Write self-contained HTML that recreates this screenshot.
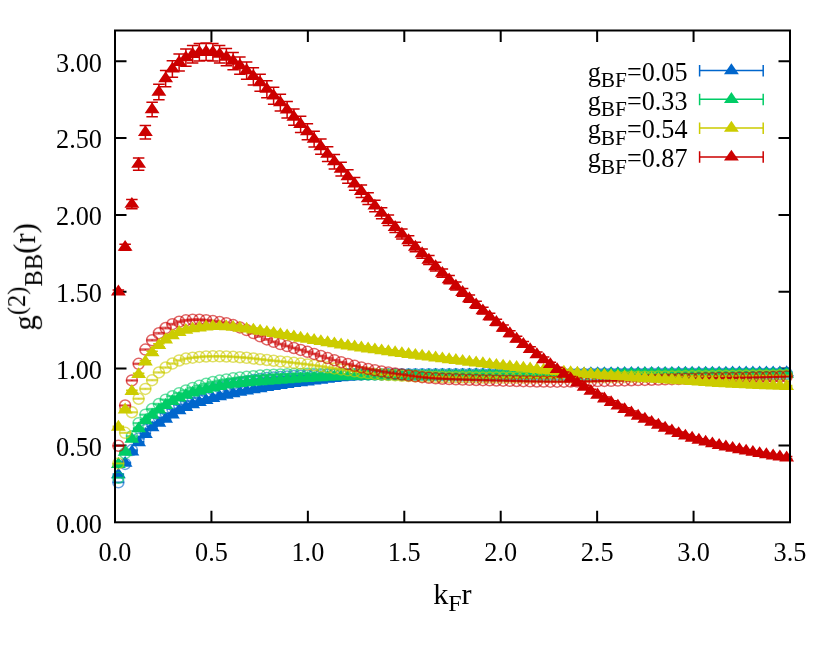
<!DOCTYPE html>
<html><head><meta charset="utf-8"><title>plot</title>
<style>
html,body{margin:0;padding:0;background:#fff;}
body{width:830px;height:645px;overflow:hidden;}
svg{display:block;}
text{font-family:"Liberation Serif",serif;font-size:26.67px;fill:#000;}
</style></head><body>
<svg width="830" height="645" viewBox="0 0 830 645">
<rect width="830" height="645" fill="#fff"/>
<g id="ticks"><path d="M211.43 522.3v-11.5M211.43 30.5v11.5M307.86 522.3v-11.5M307.86 30.5v11.5M404.29 522.3v-11.5M404.29 30.5v11.5M500.71 522.3v-11.5M500.71 30.5v11.5M597.14 522.3v-11.5M597.14 30.5v11.5M693.57 522.3v-11.5M693.57 30.5v11.5M115 445.46h11.5M790 445.46h-11.5M115 368.61h11.5M790 368.61h-11.5M115 291.77h11.5M790 291.77h-11.5M115 214.93h11.5M790 214.93h-11.5M115 138.08h11.5M790 138.08h-11.5M115 61.24h11.5M790 61.24h-11.5" stroke="#000" stroke-width="2" fill="none"/></g>
<g id="data">
<g stroke="#0066cc" stroke-opacity="0.6" stroke-width="1.5" fill="none"><path d="M118.38 482.02V482.66"/><path d="M112.62 482.02h11.5"/><path d="M112.62 482.66h11.5"/><circle cx="118.38" cy="482.34" r="5.5"/><path d="M125.12 463.55V464.25"/><path d="M119.38 463.55h11.5"/><path d="M119.38 464.25h11.5"/><circle cx="125.12" cy="463.9" r="5.5"/><path d="M131.88 449.69V450.44"/><path d="M126.12 449.69h11.5"/><path d="M126.12 450.44h11.5"/><circle cx="131.88" cy="450.07" r="5.5"/><path d="M138.62 438.14V438.94"/><path d="M132.88 438.14h11.5"/><path d="M132.88 438.94h11.5"/><circle cx="138.62" cy="438.54" r="5.5"/><path d="M145.38 429.67V430.5"/><path d="M139.62 429.67h11.5"/><path d="M139.62 430.5h11.5"/><circle cx="145.38" cy="430.09" r="5.5"/><path d="M152.12 422.74V423.61"/><path d="M146.38 422.74h11.5"/><path d="M146.38 423.61h11.5"/><circle cx="152.12" cy="423.17" r="5.5"/><path d="M158.88 417.34V418.24"/><path d="M153.12 417.34h11.5"/><path d="M153.12 418.24h11.5"/><circle cx="158.88" cy="417.79" r="5.5"/><path d="M165.62 412.72V413.64"/><path d="M159.88 412.72h11.5"/><path d="M159.88 413.64h11.5"/><circle cx="165.62" cy="413.18" r="5.5"/><path d="M172.38 408.31V409.24"/><path d="M166.62 408.31h11.5"/><path d="M166.62 409.24h11.5"/><circle cx="172.38" cy="408.78" r="5.5"/><path d="M179.12 404.27V405.19"/><path d="M173.38 404.27h11.5"/><path d="M173.38 405.19h11.5"/><circle cx="179.12" cy="404.73" r="5.5"/><path d="M185.88 400.68V401.6"/><path d="M180.12 400.68h11.5"/><path d="M180.12 401.6h11.5"/><circle cx="185.88" cy="401.14" r="5.5"/><path d="M192.62 397.38V398.3"/><path d="M186.88 397.38h11.5"/><path d="M186.88 398.3h11.5"/><circle cx="192.62" cy="397.84" r="5.5"/><path d="M199.38 394.47V395.39"/><path d="M193.62 394.47h11.5"/><path d="M193.62 395.39h11.5"/><circle cx="199.38" cy="394.93" r="5.5"/><path d="M206.12 391.87V392.79"/><path d="M200.38 391.87h11.5"/><path d="M200.38 392.79h11.5"/><circle cx="206.12" cy="392.33" r="5.5"/><path d="M212.88 389.42V390.35"/><path d="M207.12 389.42h11.5"/><path d="M207.12 390.35h11.5"/><circle cx="212.88" cy="389.89" r="5.5"/><path d="M219.62 387.18V388.11"/><path d="M213.88 387.18h11.5"/><path d="M213.88 388.11h11.5"/><circle cx="219.62" cy="387.65" r="5.5"/><path d="M226.38 385.2V386.12"/><path d="M220.62 385.2h11.5"/><path d="M220.62 386.12h11.5"/><circle cx="226.38" cy="385.66" r="5.5"/><path d="M233.12 383.52V384.44"/><path d="M227.38 383.52h11.5"/><path d="M227.38 384.44h11.5"/><circle cx="233.12" cy="383.98" r="5.5"/><path d="M239.88 382.05V382.97"/><path d="M234.12 382.05h11.5"/><path d="M234.12 382.97h11.5"/><circle cx="239.88" cy="382.51" r="5.5"/><path d="M246.63 380.68V381.61"/><path d="M240.88 380.68h11.5"/><path d="M240.88 381.61h11.5"/><circle cx="246.63" cy="381.14" r="5.5"/><path d="M253.38 379.46V380.38"/><path d="M247.62 379.46h11.5"/><path d="M247.62 380.38h11.5"/><circle cx="253.38" cy="379.92" r="5.5"/><path d="M260.12 378.42V379.34"/><path d="M254.38 378.42h11.5"/><path d="M254.38 379.34h11.5"/><circle cx="260.12" cy="378.88" r="5.5"/><path d="M266.88 377.6V378.53"/><path d="M261.12 377.6h11.5"/><path d="M261.12 378.53h11.5"/><circle cx="266.88" cy="378.07" r="5.5"/><path d="M273.62 377V377.92"/><path d="M267.88 377h11.5"/><path d="M267.88 377.92h11.5"/><circle cx="273.62" cy="377.46" r="5.5"/><path d="M280.38 376.48V377.4"/><path d="M274.62 376.48h11.5"/><path d="M274.62 377.4h11.5"/><circle cx="280.38" cy="376.94" r="5.5"/><path d="M287.12 376.02V376.94"/><path d="M281.38 376.02h11.5"/><path d="M281.38 376.94h11.5"/><circle cx="287.12" cy="376.48" r="5.5"/><path d="M293.88 375.64V376.56"/><path d="M288.12 375.64h11.5"/><path d="M288.12 376.56h11.5"/><circle cx="293.88" cy="376.1" r="5.5"/><path d="M300.62 375.32V376.24"/><path d="M294.88 375.32h11.5"/><path d="M294.88 376.24h11.5"/><circle cx="300.62" cy="375.78" r="5.5"/><path d="M307.38 375.08V376"/><path d="M301.62 375.08h11.5"/><path d="M301.62 376h11.5"/><circle cx="307.38" cy="375.54" r="5.5"/><path d="M314.12 374.89V375.81"/><path d="M308.38 374.89h11.5"/><path d="M308.38 375.81h11.5"/><circle cx="314.12" cy="375.35" r="5.5"/><path d="M320.88 374.71V375.63"/><path d="M315.12 374.71h11.5"/><path d="M315.12 375.63h11.5"/><circle cx="320.88" cy="375.17" r="5.5"/><path d="M327.62 374.55V375.47"/><path d="M321.88 374.55h11.5"/><path d="M321.88 375.47h11.5"/><circle cx="327.62" cy="375.01" r="5.5"/><path d="M334.38 374.4V375.32"/><path d="M328.62 374.4h11.5"/><path d="M328.62 375.32h11.5"/><circle cx="334.38" cy="374.86" r="5.5"/><path d="M341.12 374.27V375.19"/><path d="M335.38 374.27h11.5"/><path d="M335.38 375.19h11.5"/><circle cx="341.12" cy="374.73" r="5.5"/><path d="M347.88 374.16V375.09"/><path d="M342.12 374.16h11.5"/><path d="M342.12 375.09h11.5"/><circle cx="347.88" cy="374.62" r="5.5"/><path d="M354.62 374.08V375"/><path d="M348.88 374.08h11.5"/><path d="M348.88 375h11.5"/><circle cx="354.62" cy="374.54" r="5.5"/><path d="M361.38 374.02V374.94"/><path d="M355.62 374.02h11.5"/><path d="M355.62 374.94h11.5"/><circle cx="361.38" cy="374.48" r="5.5"/><path d="M368.13 373.98V374.9"/><path d="M362.38 373.98h11.5"/><path d="M362.38 374.9h11.5"/><circle cx="368.13" cy="374.44" r="5.5"/><path d="M374.88 373.95V374.87"/><path d="M369.13 373.95h11.5"/><path d="M369.13 374.87h11.5"/><circle cx="374.88" cy="374.41" r="5.5"/><path d="M381.62 373.92V374.85"/><path d="M375.88 373.92h11.5"/><path d="M375.88 374.85h11.5"/><circle cx="381.62" cy="374.39" r="5.5"/><path d="M388.38 373.9V374.82"/><path d="M382.63 373.9h11.5"/><path d="M382.63 374.82h11.5"/><circle cx="388.38" cy="374.36" r="5.5"/><path d="M395.13 373.88V374.8"/><path d="M389.38 373.88h11.5"/><path d="M389.38 374.8h11.5"/><circle cx="395.13" cy="374.34" r="5.5"/><path d="M401.88 373.86V374.78"/><path d="M396.12 373.86h11.5"/><path d="M396.12 374.78h11.5"/><circle cx="401.88" cy="374.32" r="5.5"/><path d="M408.63 373.85V374.77"/><path d="M402.88 373.85h11.5"/><path d="M402.88 374.77h11.5"/><circle cx="408.63" cy="374.31" r="5.5"/><path d="M415.38 373.84V374.76"/><path d="M409.62 373.84h11.5"/><path d="M409.62 374.76h11.5"/><circle cx="415.38" cy="374.3" r="5.5"/><path d="M422.13 373.84V374.76"/><path d="M416.38 373.84h11.5"/><path d="M416.38 374.76h11.5"/><circle cx="422.13" cy="374.3" r="5.5"/><path d="M428.88 373.84V374.76"/><path d="M423.13 373.84h11.5"/><path d="M423.13 374.76h11.5"/><circle cx="428.88" cy="374.3" r="5.5"/><path d="M435.62 373.84V374.76"/><path d="M429.88 373.84h11.5"/><path d="M429.88 374.76h11.5"/><circle cx="435.62" cy="374.3" r="5.5"/><path d="M442.38 373.84V374.76"/><path d="M436.63 373.84h11.5"/><path d="M436.63 374.76h11.5"/><circle cx="442.38" cy="374.3" r="5.5"/><path d="M449.13 373.84V374.76"/><path d="M443.38 373.84h11.5"/><path d="M443.38 374.76h11.5"/><circle cx="449.13" cy="374.3" r="5.5"/><path d="M455.88 373.84V374.76"/><path d="M450.12 373.84h11.5"/><path d="M450.12 374.76h11.5"/><circle cx="455.88" cy="374.3" r="5.5"/><path d="M462.63 373.84V374.76"/><path d="M456.88 373.84h11.5"/><path d="M456.88 374.76h11.5"/><circle cx="462.63" cy="374.3" r="5.5"/><path d="M469.38 373.84V374.75"/><path d="M463.63 373.84h11.5"/><path d="M463.63 374.75h11.5"/><circle cx="469.38" cy="374.3" r="5.5"/><path d="M476.13 373.84V374.75"/><path d="M470.38 373.84h11.5"/><path d="M470.38 374.75h11.5"/><circle cx="476.13" cy="374.3" r="5.5"/><path d="M482.88 373.85V374.75"/><path d="M477.13 373.85h11.5"/><path d="M477.13 374.75h11.5"/><circle cx="482.88" cy="374.3" r="5.5"/><path d="M489.63 373.85V374.75"/><path d="M483.88 373.85h11.5"/><path d="M483.88 374.75h11.5"/><circle cx="489.63" cy="374.3" r="5.5"/><path d="M496.38 373.85V374.75"/><path d="M490.63 373.85h11.5"/><path d="M490.63 374.75h11.5"/><circle cx="496.38" cy="374.3" r="5.5"/><path d="M503.13 373.85V374.75"/><path d="M497.38 373.85h11.5"/><path d="M497.38 374.75h11.5"/><circle cx="503.13" cy="374.3" r="5.5"/><path d="M509.88 373.84V374.74"/><path d="M504.13 373.84h11.5"/><path d="M504.13 374.74h11.5"/><circle cx="509.88" cy="374.29" r="5.5"/><path d="M516.62 373.83V374.72"/><path d="M510.88 373.83h11.5"/><path d="M510.88 374.72h11.5"/><circle cx="516.62" cy="374.27" r="5.5"/><path d="M523.38 373.81V374.69"/><path d="M517.62 373.81h11.5"/><path d="M517.62 374.69h11.5"/><circle cx="523.38" cy="374.25" r="5.5"/><path d="M530.12 373.78V374.66"/><path d="M524.38 373.78h11.5"/><path d="M524.38 374.66h11.5"/><circle cx="530.12" cy="374.22" r="5.5"/><path d="M536.88 373.75V374.62"/><path d="M531.12 373.75h11.5"/><path d="M531.12 374.62h11.5"/><circle cx="536.88" cy="374.19" r="5.5"/><path d="M543.62 373.71V374.58"/><path d="M537.88 373.71h11.5"/><path d="M537.88 374.58h11.5"/><circle cx="543.62" cy="374.15" r="5.5"/><path d="M550.38 373.67V374.54"/><path d="M544.62 373.67h11.5"/><path d="M544.62 374.54h11.5"/><circle cx="550.38" cy="374.11" r="5.5"/><path d="M557.13 373.63V374.49"/><path d="M551.38 373.63h11.5"/><path d="M551.38 374.49h11.5"/><circle cx="557.13" cy="374.06" r="5.5"/><path d="M563.88 373.59V374.45"/><path d="M558.12 373.59h11.5"/><path d="M558.12 374.45h11.5"/><circle cx="563.88" cy="374.02" r="5.5"/><path d="M570.62 373.55V374.4"/><path d="M564.88 373.55h11.5"/><path d="M564.88 374.4h11.5"/><circle cx="570.62" cy="373.98" r="5.5"/><path d="M577.38 373.51V374.36"/><path d="M571.63 373.51h11.5"/><path d="M571.63 374.36h11.5"/><circle cx="577.38" cy="373.94" r="5.5"/><path d="M584.12 373.48V374.32"/><path d="M578.38 373.48h11.5"/><path d="M578.38 374.32h11.5"/><circle cx="584.12" cy="373.9" r="5.5"/><path d="M590.88 373.45V374.28"/><path d="M585.12 373.45h11.5"/><path d="M585.12 374.28h11.5"/><circle cx="590.88" cy="373.86" r="5.5"/><path d="M597.63 373.42V374.25"/><path d="M591.88 373.42h11.5"/><path d="M591.88 374.25h11.5"/><circle cx="597.63" cy="373.84" r="5.5"/><path d="M604.38 373.4V374.22"/><path d="M598.62 373.4h11.5"/><path d="M598.62 374.22h11.5"/><circle cx="604.38" cy="373.81" r="5.5"/><path d="M611.12 373.37V374.19"/><path d="M605.38 373.37h11.5"/><path d="M605.38 374.19h11.5"/><circle cx="611.12" cy="373.78" r="5.5"/><path d="M617.88 373.35V374.16"/><path d="M612.12 373.35h11.5"/><path d="M612.12 374.16h11.5"/><circle cx="617.88" cy="373.75" r="5.5"/><path d="M624.62 373.32V374.13"/><path d="M618.88 373.32h11.5"/><path d="M618.88 374.13h11.5"/><circle cx="624.62" cy="373.72" r="5.5"/><path d="M631.38 373.29V374.1"/><path d="M625.62 373.29h11.5"/><path d="M625.62 374.1h11.5"/><circle cx="631.38" cy="373.69" r="5.5"/><path d="M638.13 373.27V374.06"/><path d="M632.38 373.27h11.5"/><path d="M632.38 374.06h11.5"/><circle cx="638.13" cy="373.67" r="5.5"/><path d="M644.88 373.25V374.03"/><path d="M639.12 373.25h11.5"/><path d="M639.12 374.03h11.5"/><circle cx="644.88" cy="373.64" r="5.5"/><path d="M651.62 373.22V374.01"/><path d="M645.88 373.22h11.5"/><path d="M645.88 374.01h11.5"/><circle cx="651.62" cy="373.61" r="5.5"/><path d="M658.38 373.2V373.98"/><path d="M652.63 373.2h11.5"/><path d="M652.63 373.98h11.5"/><circle cx="658.38" cy="373.59" r="5.5"/><path d="M665.13 373.19V373.96"/><path d="M659.38 373.19h11.5"/><path d="M659.38 373.96h11.5"/><circle cx="665.13" cy="373.57" r="5.5"/><path d="M671.88 373.18V373.94"/><path d="M666.12 373.18h11.5"/><path d="M666.12 373.94h11.5"/><circle cx="671.88" cy="373.56" r="5.5"/><path d="M678.63 373.17V373.92"/><path d="M672.88 373.17h11.5"/><path d="M672.88 373.92h11.5"/><circle cx="678.63" cy="373.54" r="5.5"/><path d="M685.38 373.16V373.91"/><path d="M679.63 373.16h11.5"/><path d="M679.63 373.91h11.5"/><circle cx="685.38" cy="373.53" r="5.5"/><path d="M692.12 373.16V373.9"/><path d="M686.38 373.16h11.5"/><path d="M686.38 373.9h11.5"/><circle cx="692.12" cy="373.53" r="5.5"/><path d="M698.88 373.17V373.9"/><path d="M693.13 373.17h11.5"/><path d="M693.13 373.9h11.5"/><circle cx="698.88" cy="373.53" r="5.5"/><path d="M705.63 373.17V373.89"/><path d="M699.88 373.17h11.5"/><path d="M699.88 373.89h11.5"/><circle cx="705.63" cy="373.53" r="5.5"/><path d="M712.38 373.17V373.89"/><path d="M706.62 373.17h11.5"/><path d="M706.62 373.89h11.5"/><circle cx="712.38" cy="373.53" r="5.5"/><path d="M719.13 373.18V373.88"/><path d="M713.38 373.18h11.5"/><path d="M713.38 373.88h11.5"/><circle cx="719.13" cy="373.53" r="5.5"/><path d="M725.88 373.18V373.88"/><path d="M720.13 373.18h11.5"/><path d="M720.13 373.88h11.5"/><circle cx="725.88" cy="373.53" r="5.5"/><path d="M732.62 373.19V373.88"/><path d="M726.88 373.19h11.5"/><path d="M726.88 373.88h11.5"/><circle cx="732.62" cy="373.53" r="5.5"/><path d="M739.38 373.19V373.87"/><path d="M733.63 373.19h11.5"/><path d="M733.63 373.87h11.5"/><circle cx="739.38" cy="373.53" r="5.5"/><path d="M746.13 373.19V373.87"/><path d="M740.38 373.19h11.5"/><path d="M740.38 373.87h11.5"/><circle cx="746.13" cy="373.53" r="5.5"/><path d="M752.88 373.2V373.86"/><path d="M747.12 373.2h11.5"/><path d="M747.12 373.86h11.5"/><circle cx="752.88" cy="373.53" r="5.5"/><path d="M759.63 373.2V373.86"/><path d="M753.88 373.2h11.5"/><path d="M753.88 373.86h11.5"/><circle cx="759.63" cy="373.53" r="5.5"/><path d="M766.38 373.21V373.85"/><path d="M760.63 373.21h11.5"/><path d="M760.63 373.85h11.5"/><circle cx="766.38" cy="373.53" r="5.5"/><path d="M773.13 373.21V373.85"/><path d="M767.38 373.21h11.5"/><path d="M767.38 373.85h11.5"/><circle cx="773.13" cy="373.53" r="5.5"/><path d="M779.88 373.22V373.84"/><path d="M774.13 373.22h11.5"/><path d="M774.13 373.84h11.5"/><circle cx="779.88" cy="373.53" r="5.5"/><path d="M786.63 373.22V373.84"/><path d="M780.88 373.22h11.5"/><path d="M780.88 373.84h11.5"/><circle cx="786.63" cy="373.53" r="5.5"/></g>
<g stroke="#0066cc" stroke-width="1.5" fill="none"><path d="M118.38 474.02V475.3M112.62 474.02h11.5M112.62 475.3h11.5M125.12 462.44V463.82M119.38 462.44h11.5M119.38 463.82h11.5M131.88 451.01V452.51M126.12 451.01h11.5M126.12 452.51h11.5M138.62 441.73V443.34M132.88 441.73h11.5M132.88 443.34h11.5M145.38 433.37V435.1M139.62 433.37h11.5M139.62 435.1h11.5M152.12 426.71V428.55M146.38 426.71h11.5M146.38 428.55h11.5M158.88 422.19V424.15M153.12 422.19h11.5M153.12 424.15h11.5M165.62 417.99V420.05M159.88 417.99h11.5M159.88 420.05h11.5M172.38 413.79V415.95M166.62 413.79h11.5M166.62 415.95h11.5M179.12 409.45V411.69M173.38 409.45h11.5M173.38 411.69h11.5M185.88 406.18V408.5M180.12 406.18h11.5M180.12 408.5h11.5M192.62 403.38V405.77M186.88 403.38h11.5M186.88 405.77h11.5M199.38 401.05V403.48M193.62 401.05h11.5M193.62 403.48h11.5M206.12 399.04V401.49M200.38 399.04h11.5M200.38 401.49h11.5M212.88 397.15V399.61M207.12 397.15h11.5M207.12 399.61h11.5M219.62 395.39V397.85M213.88 395.39h11.5M213.88 397.85h11.5M226.38 393.77V396.23M220.62 393.77h11.5M220.62 396.23h11.5M233.12 392.28V394.74M227.38 392.28h11.5M227.38 394.74h11.5M239.88 390.92V393.37M234.12 390.92h11.5M234.12 393.37h11.5M246.63 389.64V392.1M240.88 389.64h11.5M240.88 392.1h11.5M253.38 388.44V390.9M247.62 388.44h11.5M247.62 390.9h11.5M260.12 387.3V389.76M254.38 387.3h11.5M254.38 389.76h11.5M266.88 386.21V388.67M261.12 386.21h11.5M261.12 388.67h11.5M273.62 385.17V387.62M267.88 385.17h11.5M267.88 387.62h11.5M280.38 384.15V386.6M274.62 384.15h11.5M274.62 386.6h11.5M287.12 383.16V385.62M281.38 383.16h11.5M281.38 385.62h11.5M293.88 382.22V384.68M288.12 382.22h11.5M288.12 384.68h11.5M300.62 381.34V383.79M294.88 381.34h11.5M294.88 383.79h11.5M307.38 380.51V382.96M301.62 380.51h11.5M301.62 382.96h11.5M314.12 379.68V382.13M308.38 379.68h11.5M308.38 382.13h11.5M320.88 378.81V381.26M315.12 378.81h11.5M315.12 381.26h11.5M327.62 377.95V380.4M321.88 377.95h11.5M321.88 380.4h11.5M334.38 377.13V379.58M328.62 377.13h11.5M328.62 379.58h11.5M341.12 376.39V378.83M335.38 376.39h11.5M335.38 378.83h11.5M347.88 375.76V378.21M342.12 375.76h11.5M342.12 378.21h11.5M354.62 375.3V377.74M348.88 375.3h11.5M348.88 377.74h11.5M361.38 375.04V377.47M355.62 375.04h11.5M355.62 377.47h11.5M368.13 374.86V377.29M362.38 374.86h11.5M362.38 377.29h11.5M374.88 374.7V377.13M369.13 374.7h11.5M369.13 377.13h11.5M381.62 374.57V376.99M375.88 374.57h11.5M375.88 376.99h11.5M388.38 374.45V376.87M382.63 374.45h11.5M382.63 376.87h11.5M395.13 374.35V376.77M389.38 374.35h11.5M389.38 376.77h11.5M401.88 374.26V376.67M396.12 374.26h11.5M396.12 376.67h11.5M408.63 374.18V376.59M402.88 374.18h11.5M402.88 376.59h11.5M415.38 374.11V376.51M409.62 374.11h11.5M409.62 376.51h11.5M422.13 374.04V376.44M416.38 374.04h11.5M416.38 376.44h11.5M428.88 373.97V376.36M423.13 373.97h11.5M423.13 376.36h11.5M435.62 373.91V376.3M429.88 373.91h11.5M429.88 376.3h11.5M442.38 373.86V376.24M436.63 373.86h11.5M436.63 376.24h11.5M449.13 373.81V376.19M443.38 373.81h11.5M443.38 376.19h11.5M455.88 373.77V376.14M450.12 373.77h11.5M450.12 376.14h11.5M462.63 373.73V376.09M456.88 373.73h11.5M456.88 376.09h11.5M469.38 373.68V376.03M463.63 373.68h11.5M463.63 376.03h11.5M476.13 373.63V375.98M470.38 373.63h11.5M470.38 375.98h11.5M482.88 373.58V375.91M477.13 373.58h11.5M477.13 375.91h11.5M489.63 373.52V375.84M483.88 373.52h11.5M483.88 375.84h11.5M496.38 373.46V375.77M490.63 373.46h11.5M490.63 375.77h11.5M503.13 373.39V375.69M497.38 373.39h11.5M497.38 375.69h11.5M509.88 373.32V375.61M504.13 373.32h11.5M504.13 375.61h11.5M516.62 373.25V375.53M510.88 373.25h11.5M510.88 375.53h11.5M523.38 373.17V375.44M517.62 373.17h11.5M517.62 375.44h11.5M530.12 373.1V375.35M524.38 373.1h11.5M524.38 375.35h11.5M536.88 373.02V375.26M531.12 373.02h11.5M531.12 375.26h11.5M543.62 372.95V375.18M537.88 372.95h11.5M537.88 375.18h11.5M550.38 372.88V375.09M544.62 372.88h11.5M544.62 375.09h11.5M557.13 372.81V375M551.38 372.81h11.5M551.38 375h11.5M563.88 372.74V374.92M558.12 372.74h11.5M558.12 374.92h11.5M570.62 372.68V374.84M564.88 372.68h11.5M564.88 374.84h11.5M577.38 372.62V374.77M571.63 372.62h11.5M571.63 374.77h11.5M584.12 372.57V374.7M578.38 372.57h11.5M578.38 374.7h11.5M590.88 372.52V374.63M585.12 372.52h11.5M585.12 374.63h11.5M597.63 372.48V374.57M591.88 372.48h11.5M591.88 374.57h11.5M604.38 372.45V374.52M598.62 372.45h11.5M598.62 374.52h11.5M611.12 372.42V374.47M605.38 372.42h11.5M605.38 374.47h11.5M617.88 372.39V374.42M612.12 372.39h11.5M612.12 374.42h11.5M624.62 372.37V374.38M618.88 372.37h11.5M618.88 374.38h11.5M631.38 372.34V374.33M625.62 372.34h11.5M625.62 374.33h11.5M638.13 372.32V374.29M632.38 372.32h11.5M632.38 374.29h11.5M644.88 372.3V374.24M639.12 372.3h11.5M639.12 374.24h11.5M651.62 372.28V374.2M645.88 372.28h11.5M645.88 374.2h11.5M658.38 372.26V374.15M652.63 372.26h11.5M652.63 374.15h11.5M665.13 372.24V374.11M659.38 372.24h11.5M659.38 374.11h11.5M671.88 372.22V374.06M666.12 372.22h11.5M666.12 374.06h11.5M678.63 372.2V374.01M672.88 372.2h11.5M672.88 374.01h11.5M685.38 372.18V373.96M679.63 372.18h11.5M679.63 373.96h11.5M692.12 372.16V373.92M686.38 372.16h11.5M686.38 373.92h11.5M698.88 372.15V373.87M693.13 372.15h11.5M693.13 373.87h11.5M705.63 372.13V373.82M699.88 372.13h11.5M699.88 373.82h11.5M712.38 372.11V373.77M706.62 372.11h11.5M706.62 373.77h11.5M719.13 372.1V373.72M713.38 372.1h11.5M713.38 373.72h11.5M725.88 372.08V373.68M720.13 372.08h11.5M720.13 373.68h11.5M732.62 372.07V373.63M726.88 372.07h11.5M726.88 373.63h11.5M739.38 372.05V373.58M733.63 372.05h11.5M733.63 373.58h11.5M746.13 372.04V373.53M740.38 372.04h11.5M740.38 373.53h11.5M752.88 372.03V373.48M747.12 372.03h11.5M747.12 373.48h11.5M759.63 372.02V373.43M753.88 372.02h11.5M753.88 373.43h11.5M766.38 372.01V373.38M760.63 372.01h11.5M760.63 373.38h11.5M773.13 372V373.33M767.38 372h11.5M767.38 373.33h11.5M779.88 371.99V373.28M774.13 371.99h11.5M774.13 373.28h11.5M786.63 371.98V373.23M780.88 371.98h11.5M780.88 373.23h11.5"/><path fill="#0066cc" stroke="none" d="M118.38 467.41l-7.45 10.9h14.9zM125.12 455.88l-7.45 10.9h14.9zM131.88 444.51l-7.45 10.9h14.9zM138.62 435.29l-7.45 10.9h14.9zM145.38 426.99l-7.45 10.9h14.9zM152.12 420.38l-7.45 10.9h14.9zM158.88 415.92l-7.45 10.9h14.9zM165.62 411.77l-7.45 10.9h14.9zM172.38 407.62l-7.45 10.9h14.9zM179.12 403.32l-7.45 10.9h14.9zM185.88 400.09l-7.45 10.9h14.9zM192.62 397.33l-7.45 10.9h14.9zM199.38 395.01l-7.45 10.9h14.9zM206.12 393.02l-7.45 10.9h14.9zM212.88 391.13l-7.45 10.9h14.9zM219.62 389.37l-7.45 10.9h14.9zM226.38 387.75l-7.45 10.9h14.9zM233.12 386.26l-7.45 10.9h14.9zM239.88 384.89l-7.45 10.9h14.9zM246.63 383.62l-7.45 10.9h14.9zM253.38 382.42l-7.45 10.9h14.9zM260.12 381.28l-7.45 10.9h14.9zM266.88 380.19l-7.45 10.9h14.9zM273.62 379.14l-7.45 10.9h14.9zM280.38 378.12l-7.45 10.9h14.9zM287.12 377.14l-7.45 10.9h14.9zM293.88 376.2l-7.45 10.9h14.9zM300.62 375.32l-7.45 10.9h14.9zM307.38 374.48l-7.45 10.9h14.9zM314.12 373.66l-7.45 10.9h14.9zM320.88 372.79l-7.45 10.9h14.9zM327.62 371.93l-7.45 10.9h14.9zM334.38 371.1l-7.45 10.9h14.9zM341.12 370.36l-7.45 10.9h14.9zM347.88 369.74l-7.45 10.9h14.9zM354.62 369.27l-7.45 10.9h14.9zM361.38 369l-7.45 10.9h14.9zM368.13 368.82l-7.45 10.9h14.9zM374.88 368.67l-7.45 10.9h14.9zM381.62 368.53l-7.45 10.9h14.9zM388.38 368.41l-7.45 10.9h14.9zM395.13 368.31l-7.45 10.9h14.9zM401.88 368.22l-7.45 10.9h14.9zM408.63 368.14l-7.45 10.9h14.9zM415.38 368.06l-7.45 10.9h14.9zM422.13 367.99l-7.45 10.9h14.9zM428.88 367.92l-7.45 10.9h14.9zM435.62 367.86l-7.45 10.9h14.9zM442.38 367.8l-7.45 10.9h14.9zM449.13 367.75l-7.45 10.9h14.9zM455.88 367.7l-7.45 10.9h14.9zM462.63 367.66l-7.45 10.9h14.9zM469.38 367.61l-7.45 10.9h14.9zM476.13 367.56l-7.45 10.9h14.9zM482.88 367.5l-7.45 10.9h14.9zM489.63 367.43l-7.45 10.9h14.9zM496.38 367.36l-7.45 10.9h14.9zM503.13 367.29l-7.45 10.9h14.9zM509.88 367.21l-7.45 10.9h14.9zM516.62 367.14l-7.45 10.9h14.9zM523.38 367.06l-7.45 10.9h14.9zM530.12 366.97l-7.45 10.9h14.9zM536.88 366.89l-7.45 10.9h14.9zM543.62 366.81l-7.45 10.9h14.9zM550.38 366.73l-7.45 10.9h14.9zM557.13 366.66l-7.45 10.9h14.9zM563.88 366.58l-7.45 10.9h14.9zM570.62 366.51l-7.45 10.9h14.9zM577.38 366.44l-7.45 10.9h14.9zM584.12 366.38l-7.45 10.9h14.9zM590.88 366.33l-7.45 10.9h14.9zM597.63 366.28l-7.45 10.9h14.9zM604.38 366.23l-7.45 10.9h14.9zM611.12 366.19l-7.45 10.9h14.9zM617.88 366.16l-7.45 10.9h14.9zM624.62 366.12l-7.45 10.9h14.9zM631.38 366.09l-7.45 10.9h14.9zM638.13 366.05l-7.45 10.9h14.9zM644.88 366.02l-7.45 10.9h14.9zM651.62 365.99l-7.45 10.9h14.9zM658.38 365.96l-7.45 10.9h14.9zM665.13 365.92l-7.45 10.9h14.9zM671.88 365.89l-7.45 10.9h14.9zM678.63 365.86l-7.45 10.9h14.9zM685.38 365.82l-7.45 10.9h14.9zM692.12 365.79l-7.45 10.9h14.9zM698.88 365.76l-7.45 10.9h14.9zM705.63 365.72l-7.45 10.9h14.9zM712.38 365.69l-7.45 10.9h14.9zM719.13 365.66l-7.45 10.9h14.9zM725.88 365.63l-7.45 10.9h14.9zM732.62 365.6l-7.45 10.9h14.9zM739.38 365.57l-7.45 10.9h14.9zM746.13 365.54l-7.45 10.9h14.9zM752.88 365.51l-7.45 10.9h14.9zM759.63 365.48l-7.45 10.9h14.9zM766.38 365.45l-7.45 10.9h14.9zM773.13 365.42l-7.45 10.9h14.9zM779.88 365.39l-7.45 10.9h14.9zM786.63 365.36l-7.45 10.9h14.9z"/></g>
<g stroke="#00cc66" stroke-opacity="0.6" stroke-width="1.5" fill="none"><path d="M118.38 477.41V478.05"/><path d="M112.62 477.41h11.5"/><path d="M112.62 478.05h11.5"/><circle cx="118.38" cy="477.73" r="5.5"/><path d="M125.12 452.79V453.49"/><path d="M119.38 452.79h11.5"/><path d="M119.38 453.49h11.5"/><circle cx="125.12" cy="453.14" r="5.5"/><path d="M131.88 435.86V436.61"/><path d="M126.12 435.86h11.5"/><path d="M126.12 436.61h11.5"/><circle cx="131.88" cy="436.23" r="5.5"/><path d="M138.62 422.78V423.57"/><path d="M132.88 422.78h11.5"/><path d="M132.88 423.57h11.5"/><circle cx="138.62" cy="423.17" r="5.5"/><path d="M145.38 414.3V415.14"/><path d="M139.62 414.3h11.5"/><path d="M139.62 415.14h11.5"/><circle cx="145.38" cy="414.72" r="5.5"/><path d="M152.12 408.6V409.47"/><path d="M146.38 408.6h11.5"/><path d="M146.38 409.47h11.5"/><circle cx="152.12" cy="409.03" r="5.5"/><path d="M158.88 403.51V404.41"/><path d="M153.12 403.51h11.5"/><path d="M153.12 404.41h11.5"/><circle cx="158.88" cy="403.96" r="5.5"/><path d="M165.62 399.2V400.11"/><path d="M159.88 399.2h11.5"/><path d="M159.88 400.11h11.5"/><circle cx="165.62" cy="399.66" r="5.5"/><path d="M172.38 395.82V396.74"/><path d="M166.62 395.82h11.5"/><path d="M166.62 396.74h11.5"/><circle cx="172.38" cy="396.28" r="5.5"/><path d="M179.12 392.74V393.66"/><path d="M173.38 392.74h11.5"/><path d="M173.38 393.66h11.5"/><circle cx="179.12" cy="393.2" r="5.5"/><path d="M185.88 389.99V390.91"/><path d="M180.12 389.99h11.5"/><path d="M180.12 390.91h11.5"/><circle cx="185.88" cy="390.45" r="5.5"/><path d="M192.62 387.44V388.36"/><path d="M186.88 387.44h11.5"/><path d="M186.88 388.36h11.5"/><circle cx="192.62" cy="387.9" r="5.5"/><path d="M199.38 385.2V386.12"/><path d="M193.62 385.2h11.5"/><path d="M193.62 386.12h11.5"/><circle cx="199.38" cy="385.66" r="5.5"/><path d="M206.12 383.27V384.2"/><path d="M200.38 383.27h11.5"/><path d="M200.38 384.2h11.5"/><circle cx="206.12" cy="383.74" r="5.5"/><path d="M212.88 381.57V382.49"/><path d="M207.12 381.57h11.5"/><path d="M207.12 382.49h11.5"/><circle cx="212.88" cy="382.03" r="5.5"/><path d="M219.62 380.14V381.06"/><path d="M213.88 380.14h11.5"/><path d="M213.88 381.06h11.5"/><circle cx="219.62" cy="380.6" r="5.5"/><path d="M226.38 378.94V379.86"/><path d="M220.62 378.94h11.5"/><path d="M220.62 379.86h11.5"/><circle cx="226.38" cy="379.4" r="5.5"/><path d="M233.12 377.9V378.82"/><path d="M227.38 377.9h11.5"/><path d="M227.38 378.82h11.5"/><circle cx="233.12" cy="378.36" r="5.5"/><path d="M239.88 377.07V377.99"/><path d="M234.12 377.07h11.5"/><path d="M234.12 377.99h11.5"/><circle cx="239.88" cy="377.53" r="5.5"/><path d="M246.63 376.36V377.29"/><path d="M240.88 376.36h11.5"/><path d="M240.88 377.29h11.5"/><circle cx="246.63" cy="376.83" r="5.5"/><path d="M253.38 375.71V376.63"/><path d="M247.62 375.71h11.5"/><path d="M247.62 376.63h11.5"/><circle cx="253.38" cy="376.17" r="5.5"/><path d="M260.12 375.12V376.05"/><path d="M254.38 375.12h11.5"/><path d="M254.38 376.05h11.5"/><circle cx="260.12" cy="375.59" r="5.5"/><path d="M266.88 374.63V375.55"/><path d="M261.12 374.63h11.5"/><path d="M261.12 375.55h11.5"/><circle cx="266.88" cy="375.09" r="5.5"/><path d="M273.62 374.23V375.15"/><path d="M267.88 374.23h11.5"/><path d="M267.88 375.15h11.5"/><circle cx="273.62" cy="374.69" r="5.5"/><path d="M280.38 373.96V374.88"/><path d="M274.62 373.96h11.5"/><path d="M274.62 374.88h11.5"/><circle cx="280.38" cy="374.42" r="5.5"/><path d="M287.12 373.75V374.67"/><path d="M281.38 373.75h11.5"/><path d="M281.38 374.67h11.5"/><circle cx="287.12" cy="374.21" r="5.5"/><path d="M293.88 373.56V374.48"/><path d="M288.12 373.56h11.5"/><path d="M288.12 374.48h11.5"/><circle cx="293.88" cy="374.02" r="5.5"/><path d="M300.62 373.43V374.35"/><path d="M294.88 373.43h11.5"/><path d="M294.88 374.35h11.5"/><circle cx="300.62" cy="373.89" r="5.5"/><path d="M307.38 373.38V374.3"/><path d="M301.62 373.38h11.5"/><path d="M301.62 374.3h11.5"/><circle cx="307.38" cy="373.84" r="5.5"/><path d="M314.12 373.39V374.31"/><path d="M308.38 373.39h11.5"/><path d="M308.38 374.31h11.5"/><circle cx="314.12" cy="373.85" r="5.5"/><path d="M320.88 373.43V374.35"/><path d="M315.12 373.43h11.5"/><path d="M315.12 374.35h11.5"/><circle cx="320.88" cy="373.89" r="5.5"/><path d="M327.62 373.49V374.41"/><path d="M321.88 373.49h11.5"/><path d="M321.88 374.41h11.5"/><circle cx="327.62" cy="373.95" r="5.5"/><path d="M334.38 373.57V374.49"/><path d="M328.62 373.57h11.5"/><path d="M328.62 374.49h11.5"/><circle cx="334.38" cy="374.03" r="5.5"/><path d="M341.12 373.66V374.58"/><path d="M335.38 373.66h11.5"/><path d="M335.38 374.58h11.5"/><circle cx="341.12" cy="374.12" r="5.5"/><path d="M347.88 373.75V374.67"/><path d="M342.12 373.75h11.5"/><path d="M342.12 374.67h11.5"/><circle cx="347.88" cy="374.21" r="5.5"/><path d="M354.62 373.85V374.77"/><path d="M348.88 373.85h11.5"/><path d="M348.88 374.77h11.5"/><circle cx="354.62" cy="374.31" r="5.5"/><path d="M361.38 373.94V374.86"/><path d="M355.62 373.94h11.5"/><path d="M355.62 374.86h11.5"/><circle cx="361.38" cy="374.4" r="5.5"/><path d="M368.13 374.02V374.94"/><path d="M362.38 374.02h11.5"/><path d="M362.38 374.94h11.5"/><circle cx="368.13" cy="374.48" r="5.5"/><path d="M374.88 374.11V375.03"/><path d="M369.13 374.11h11.5"/><path d="M369.13 375.03h11.5"/><circle cx="374.88" cy="374.57" r="5.5"/><path d="M381.62 374.21V375.13"/><path d="M375.88 374.21h11.5"/><path d="M375.88 375.13h11.5"/><circle cx="381.62" cy="374.67" r="5.5"/><path d="M388.38 374.32V375.24"/><path d="M382.63 374.32h11.5"/><path d="M382.63 375.24h11.5"/><circle cx="388.38" cy="374.78" r="5.5"/><path d="M395.13 374.42V375.35"/><path d="M389.38 374.42h11.5"/><path d="M389.38 375.35h11.5"/><circle cx="395.13" cy="374.88" r="5.5"/><path d="M401.88 374.52V375.45"/><path d="M396.12 374.52h11.5"/><path d="M396.12 375.45h11.5"/><circle cx="401.88" cy="374.98" r="5.5"/><path d="M408.63 374.61V375.54"/><path d="M402.88 374.61h11.5"/><path d="M402.88 375.54h11.5"/><circle cx="408.63" cy="375.08" r="5.5"/><path d="M415.38 374.69V375.61"/><path d="M409.62 374.69h11.5"/><path d="M409.62 375.61h11.5"/><circle cx="415.38" cy="375.15" r="5.5"/><path d="M422.13 374.75V375.67"/><path d="M416.38 374.75h11.5"/><path d="M416.38 375.67h11.5"/><circle cx="422.13" cy="375.21" r="5.5"/><path d="M428.88 374.79V375.71"/><path d="M423.13 374.79h11.5"/><path d="M423.13 375.71h11.5"/><circle cx="428.88" cy="375.25" r="5.5"/><path d="M435.62 374.84V375.75"/><path d="M429.88 374.84h11.5"/><path d="M429.88 375.75h11.5"/><circle cx="435.62" cy="375.3" r="5.5"/><path d="M442.38 374.88V375.79"/><path d="M436.63 374.88h11.5"/><path d="M436.63 375.79h11.5"/><circle cx="442.38" cy="375.33" r="5.5"/><path d="M449.13 374.91V375.83"/><path d="M443.38 374.91h11.5"/><path d="M443.38 375.83h11.5"/><circle cx="449.13" cy="375.37" r="5.5"/><path d="M455.88 374.95V375.86"/><path d="M450.12 374.95h11.5"/><path d="M450.12 375.86h11.5"/><circle cx="455.88" cy="375.41" r="5.5"/><path d="M462.63 374.98V375.89"/><path d="M456.88 374.98h11.5"/><path d="M456.88 375.89h11.5"/><circle cx="462.63" cy="375.44" r="5.5"/><path d="M469.38 375.01V375.92"/><path d="M463.63 375.01h11.5"/><path d="M463.63 375.92h11.5"/><circle cx="469.38" cy="375.47" r="5.5"/><path d="M476.13 375.03V375.94"/><path d="M470.38 375.03h11.5"/><path d="M470.38 375.94h11.5"/><circle cx="476.13" cy="375.49" r="5.5"/><path d="M482.88 375.05V375.96"/><path d="M477.13 375.05h11.5"/><path d="M477.13 375.96h11.5"/><circle cx="482.88" cy="375.51" r="5.5"/><path d="M489.63 375.07V375.97"/><path d="M483.88 375.07h11.5"/><path d="M483.88 375.97h11.5"/><circle cx="489.63" cy="375.52" r="5.5"/><path d="M496.38 375.08V375.98"/><path d="M490.63 375.08h11.5"/><path d="M490.63 375.98h11.5"/><circle cx="496.38" cy="375.53" r="5.5"/><path d="M503.13 375.08V375.98"/><path d="M497.38 375.08h11.5"/><path d="M497.38 375.98h11.5"/><circle cx="503.13" cy="375.53" r="5.5"/><path d="M509.88 375.08V375.97"/><path d="M504.13 375.08h11.5"/><path d="M504.13 375.97h11.5"/><circle cx="509.88" cy="375.52" r="5.5"/><path d="M516.62 375.07V375.96"/><path d="M510.88 375.07h11.5"/><path d="M510.88 375.96h11.5"/><circle cx="516.62" cy="375.51" r="5.5"/><path d="M523.38 375.06V375.94"/><path d="M517.62 375.06h11.5"/><path d="M517.62 375.94h11.5"/><circle cx="523.38" cy="375.5" r="5.5"/><path d="M530.12 375.04V375.93"/><path d="M524.38 375.04h11.5"/><path d="M524.38 375.93h11.5"/><circle cx="530.12" cy="375.48" r="5.5"/><path d="M536.88 375.02V375.9"/><path d="M531.12 375.02h11.5"/><path d="M531.12 375.9h11.5"/><circle cx="536.88" cy="375.46" r="5.5"/><path d="M543.62 375V375.88"/><path d="M537.88 375h11.5"/><path d="M537.88 375.88h11.5"/><circle cx="543.62" cy="375.44" r="5.5"/><path d="M550.38 374.98V375.85"/><path d="M544.62 374.98h11.5"/><path d="M544.62 375.85h11.5"/><circle cx="550.38" cy="375.42" r="5.5"/><path d="M557.13 374.96V375.82"/><path d="M551.38 374.96h11.5"/><path d="M551.38 375.82h11.5"/><circle cx="557.13" cy="375.39" r="5.5"/><path d="M563.88 374.93V375.79"/><path d="M558.12 374.93h11.5"/><path d="M558.12 375.79h11.5"/><circle cx="563.88" cy="375.36" r="5.5"/><path d="M570.62 374.9V375.76"/><path d="M564.88 374.9h11.5"/><path d="M564.88 375.76h11.5"/><circle cx="570.62" cy="375.33" r="5.5"/><path d="M577.38 374.88V375.73"/><path d="M571.63 374.88h11.5"/><path d="M571.63 375.73h11.5"/><circle cx="577.38" cy="375.3" r="5.5"/><path d="M584.12 374.85V375.7"/><path d="M578.38 374.85h11.5"/><path d="M578.38 375.7h11.5"/><circle cx="584.12" cy="375.27" r="5.5"/><path d="M590.88 374.83V375.67"/><path d="M585.12 374.83h11.5"/><path d="M585.12 375.67h11.5"/><circle cx="590.88" cy="375.25" r="5.5"/><path d="M597.63 374.8V375.64"/><path d="M591.88 374.8h11.5"/><path d="M591.88 375.64h11.5"/><circle cx="597.63" cy="375.22" r="5.5"/><path d="M604.38 374.78V375.61"/><path d="M598.62 374.78h11.5"/><path d="M598.62 375.61h11.5"/><circle cx="604.38" cy="375.19" r="5.5"/><path d="M611.12 374.75V375.57"/><path d="M605.38 374.75h11.5"/><path d="M605.38 375.57h11.5"/><circle cx="611.12" cy="375.16" r="5.5"/><path d="M617.88 374.72V375.54"/><path d="M612.12 374.72h11.5"/><path d="M612.12 375.54h11.5"/><circle cx="617.88" cy="375.13" r="5.5"/><path d="M624.62 374.69V375.5"/><path d="M618.88 374.69h11.5"/><path d="M618.88 375.5h11.5"/><circle cx="624.62" cy="375.1" r="5.5"/><path d="M631.38 374.66V375.47"/><path d="M625.62 374.66h11.5"/><path d="M625.62 375.47h11.5"/><circle cx="631.38" cy="375.06" r="5.5"/><path d="M638.13 374.63V375.43"/><path d="M632.38 374.63h11.5"/><path d="M632.38 375.43h11.5"/><circle cx="638.13" cy="375.03" r="5.5"/><path d="M644.88 374.6V375.39"/><path d="M639.12 374.6h11.5"/><path d="M639.12 375.39h11.5"/><circle cx="644.88" cy="374.99" r="5.5"/><path d="M651.62 374.57V375.35"/><path d="M645.88 374.57h11.5"/><path d="M645.88 375.35h11.5"/><circle cx="651.62" cy="374.96" r="5.5"/><path d="M658.38 374.54V375.31"/><path d="M652.63 374.54h11.5"/><path d="M652.63 375.31h11.5"/><circle cx="658.38" cy="374.92" r="5.5"/><path d="M665.13 374.51V375.27"/><path d="M659.38 374.51h11.5"/><path d="M659.38 375.27h11.5"/><circle cx="665.13" cy="374.89" r="5.5"/><path d="M671.88 374.48V375.24"/><path d="M666.12 374.48h11.5"/><path d="M666.12 375.24h11.5"/><circle cx="671.88" cy="374.86" r="5.5"/><path d="M678.63 374.45V375.2"/><path d="M672.88 374.45h11.5"/><path d="M672.88 375.2h11.5"/><circle cx="678.63" cy="374.82" r="5.5"/><path d="M685.38 374.42V375.17"/><path d="M679.63 374.42h11.5"/><path d="M679.63 375.17h11.5"/><circle cx="685.38" cy="374.79" r="5.5"/><path d="M692.12 374.4V375.13"/><path d="M686.38 374.4h11.5"/><path d="M686.38 375.13h11.5"/><circle cx="692.12" cy="374.77" r="5.5"/><path d="M698.88 374.37V375.1"/><path d="M693.13 374.37h11.5"/><path d="M693.13 375.1h11.5"/><circle cx="698.88" cy="374.74" r="5.5"/><path d="M705.63 374.35V375.07"/><path d="M699.88 374.35h11.5"/><path d="M699.88 375.07h11.5"/><circle cx="705.63" cy="374.71" r="5.5"/><path d="M712.38 374.33V375.05"/><path d="M706.62 374.33h11.5"/><path d="M706.62 375.05h11.5"/><circle cx="712.38" cy="374.69" r="5.5"/><path d="M719.13 374.31V375.02"/><path d="M713.38 374.31h11.5"/><path d="M713.38 375.02h11.5"/><circle cx="719.13" cy="374.66" r="5.5"/><path d="M725.88 374.29V374.99"/><path d="M720.13 374.29h11.5"/><path d="M720.13 374.99h11.5"/><circle cx="725.88" cy="374.64" r="5.5"/><path d="M732.62 374.27V374.96"/><path d="M726.88 374.27h11.5"/><path d="M726.88 374.96h11.5"/><circle cx="732.62" cy="374.62" r="5.5"/><path d="M739.38 374.25V374.93"/><path d="M733.63 374.25h11.5"/><path d="M733.63 374.93h11.5"/><circle cx="739.38" cy="374.59" r="5.5"/><path d="M746.13 374.23V374.91"/><path d="M740.38 374.23h11.5"/><path d="M740.38 374.91h11.5"/><circle cx="746.13" cy="374.57" r="5.5"/><path d="M752.88 374.22V374.88"/><path d="M747.12 374.22h11.5"/><path d="M747.12 374.88h11.5"/><circle cx="752.88" cy="374.55" r="5.5"/><path d="M759.63 374.2V374.86"/><path d="M753.88 374.2h11.5"/><path d="M753.88 374.86h11.5"/><circle cx="759.63" cy="374.53" r="5.5"/><path d="M766.38 374.19V374.83"/><path d="M760.63 374.19h11.5"/><path d="M760.63 374.83h11.5"/><circle cx="766.38" cy="374.51" r="5.5"/><path d="M773.13 374.17V374.81"/><path d="M767.38 374.17h11.5"/><path d="M767.38 374.81h11.5"/><circle cx="773.13" cy="374.49" r="5.5"/><path d="M779.88 374.16V374.78"/><path d="M774.13 374.16h11.5"/><path d="M774.13 374.78h11.5"/><circle cx="779.88" cy="374.47" r="5.5"/><path d="M786.63 374.14V374.76"/><path d="M780.88 374.14h11.5"/><path d="M780.88 374.76h11.5"/><circle cx="786.63" cy="374.45" r="5.5"/></g>
<g stroke="#00cc66" stroke-width="1.5" fill="none"><path d="M118.38 463.72V465M112.62 463.72h11.5M112.62 465h11.5M125.12 451.37V452.76M119.38 451.37h11.5M119.38 452.76h11.5M131.88 438.4V439.91M126.12 438.4h11.5M126.12 439.91h11.5M138.62 427.9V429.51M132.88 427.9h11.5M132.88 429.51h11.5M145.38 419.85V421.58M139.62 419.85h11.5M139.62 421.58h11.5M152.12 414.1V415.95M146.38 414.1h11.5M146.38 415.95h11.5M158.88 408.98V410.93M153.12 408.98h11.5M153.12 410.93h11.5M165.62 404.31V406.37M159.88 404.31h11.5M159.88 406.37h11.5M172.38 400.27V402.43M166.62 400.27h11.5M166.62 402.43h11.5M179.12 396.84V399.09M173.38 396.84h11.5M173.38 399.09h11.5M185.88 394.04V396.36M180.12 394.04h11.5M180.12 396.36h11.5M192.62 391.7V394.09M186.88 391.7h11.5M186.88 394.09h11.5M199.38 389.84V392.26M193.62 389.84h11.5M193.62 392.26h11.5M206.12 388.16V390.62M200.38 388.16h11.5M200.38 390.62h11.5M212.88 386.54V389M207.12 386.54h11.5M207.12 389h11.5M219.62 385.03V387.49M213.88 385.03h11.5M213.88 387.49h11.5M226.38 383.74V386.2M220.62 383.74h11.5M220.62 386.2h11.5M233.12 382.75V385.21M227.38 382.75h11.5M227.38 385.21h11.5M239.88 382V384.46M234.12 382h11.5M234.12 384.46h11.5M246.63 381.36V383.82M240.88 381.36h11.5M240.88 383.82h11.5M253.38 380.8V383.25M247.62 380.8h11.5M247.62 383.25h11.5M260.12 380.29V382.75M254.38 380.29h11.5M254.38 382.75h11.5M266.88 379.83V382.28M261.12 379.83h11.5M261.12 382.28h11.5M273.62 379.37V381.82M267.88 379.37h11.5M267.88 381.82h11.5M280.38 378.89V381.35M274.62 378.89h11.5M274.62 381.35h11.5M287.12 378.4V380.86M281.38 378.4h11.5M281.38 380.86h11.5M293.88 377.92V380.38M288.12 377.92h11.5M288.12 380.38h11.5M300.62 377.48V379.94M294.88 377.48h11.5M294.88 379.94h11.5M307.38 377.09V379.55M301.62 377.09h11.5M301.62 379.55h11.5M314.12 376.73V379.18M308.38 376.73h11.5M308.38 379.18h11.5M320.88 376.35V378.8M315.12 376.35h11.5M315.12 378.8h11.5M327.62 375.98V378.43M321.88 375.98h11.5M321.88 378.43h11.5M334.38 375.63V378.08M328.62 375.63h11.5M328.62 378.08h11.5M341.12 375.33V377.78M335.38 375.33h11.5M335.38 377.78h11.5M347.88 375.1V377.55M342.12 375.1h11.5M342.12 377.55h11.5M354.62 374.96V377.4M348.88 374.96h11.5M348.88 377.4h11.5M361.38 374.92V377.36M355.62 374.92h11.5M355.62 377.36h11.5M368.13 374.93V377.36M362.38 374.93h11.5M362.38 377.36h11.5M374.88 374.93V377.36M369.13 374.93h11.5M369.13 377.36h11.5M381.62 374.93V377.36M375.88 374.93h11.5M375.88 377.36h11.5M388.38 374.93V377.36M382.63 374.93h11.5M382.63 377.36h11.5M395.13 374.93V377.35M389.38 374.93h11.5M389.38 377.35h11.5M401.88 374.94V377.35M396.12 374.94h11.5M396.12 377.35h11.5M408.63 374.94V377.35M402.88 374.94h11.5M402.88 377.35h11.5M415.38 374.94V377.35M409.62 374.94h11.5M409.62 377.35h11.5M422.13 374.94V377.34M416.38 374.94h11.5M416.38 377.34h11.5M428.88 374.94V377.34M423.13 374.94h11.5M423.13 377.34h11.5M435.62 374.93V377.32M429.88 374.93h11.5M429.88 377.32h11.5M442.38 374.91V377.29M436.63 374.91h11.5M436.63 377.29h11.5M449.13 374.88V377.25M443.38 374.88h11.5M443.38 377.25h11.5M455.88 374.84V377.2M450.12 374.84h11.5M450.12 377.2h11.5M462.63 374.79V377.15M456.88 374.79h11.5M456.88 377.15h11.5M469.38 374.75V377.1M463.63 374.75h11.5M463.63 377.1h11.5M476.13 374.7V377.05M470.38 374.7h11.5M470.38 377.05h11.5M482.88 374.66V376.99M477.13 374.66h11.5M477.13 376.99h11.5M489.63 374.61V376.93M483.88 374.61h11.5M483.88 376.93h11.5M496.38 374.54V376.86M490.63 374.54h11.5M490.63 376.86h11.5M503.13 374.47V376.77M497.38 374.47h11.5M497.38 376.77h11.5M509.88 374.39V376.68M504.13 374.39h11.5M504.13 376.68h11.5M516.62 374.31V376.58M510.88 374.31h11.5M510.88 376.58h11.5M523.38 374.21V376.48M517.62 374.21h11.5M517.62 376.48h11.5M530.12 374.12V376.37M524.38 374.12h11.5M524.38 376.37h11.5M536.88 374.02V376.26M531.12 374.02h11.5M531.12 376.26h11.5M543.62 373.92V376.15M537.88 373.92h11.5M537.88 376.15h11.5M550.38 373.82V376.03M544.62 373.82h11.5M544.62 376.03h11.5M557.13 373.73V375.92M551.38 373.73h11.5M551.38 375.92h11.5M563.88 373.63V375.81M558.12 373.63h11.5M558.12 375.81h11.5M570.62 373.54V375.71M564.88 373.54h11.5M564.88 375.71h11.5M577.38 373.46V375.6M571.63 373.46h11.5M571.63 375.6h11.5M584.12 373.38V375.51M578.38 373.38h11.5M578.38 375.51h11.5M590.88 373.31V375.42M585.12 373.31h11.5M585.12 375.42h11.5M597.63 373.25V375.34M591.88 373.25h11.5M591.88 375.34h11.5M604.38 373.19V375.26M598.62 373.19h11.5M598.62 375.26h11.5M611.12 373.13V375.18M605.38 373.13h11.5M605.38 375.18h11.5M617.88 373.06V375.1M612.12 373.06h11.5M612.12 375.1h11.5M624.62 373.01V375.02M618.88 373.01h11.5M618.88 375.02h11.5M631.38 372.96V374.94M625.62 372.96h11.5M625.62 374.94h11.5M638.13 372.92V374.88M632.38 372.92h11.5M632.38 374.88h11.5M644.88 372.89V374.83M639.12 372.89h11.5M639.12 374.83h11.5M651.62 372.88V374.8M645.88 372.88h11.5M645.88 374.8h11.5M658.38 372.89V374.78M652.63 372.89h11.5M652.63 374.78h11.5M665.13 372.9V374.77M659.38 372.9h11.5M659.38 374.77h11.5M671.88 372.92V374.76M666.12 372.92h11.5M666.12 374.76h11.5M678.63 372.93V374.75M672.88 372.93h11.5M672.88 374.75h11.5M685.38 372.95V374.73M679.63 372.95h11.5M679.63 374.73h11.5M692.12 372.97V374.72M686.38 372.97h11.5M686.38 374.72h11.5M698.88 372.99V374.71M693.13 372.99h11.5M693.13 374.71h11.5M705.63 373.01V374.7M699.88 373.01h11.5M699.88 374.7h11.5M712.38 373.03V374.69M706.62 373.03h11.5M706.62 374.69h11.5M719.13 373.06V374.69M713.38 373.06h11.5M713.38 374.69h11.5M725.88 373.09V374.68M720.13 373.09h11.5M720.13 374.68h11.5M732.62 373.12V374.68M726.88 373.12h11.5M726.88 374.68h11.5M739.38 373.16V374.68M733.63 373.16h11.5M733.63 374.68h11.5M746.13 373.2V374.68M740.38 373.2h11.5M740.38 374.68h11.5M752.88 373.24V374.69M747.12 373.24h11.5M747.12 374.69h11.5M759.63 373.29V374.7M753.88 373.29h11.5M753.88 374.7h11.5M766.38 373.34V374.71M760.63 373.34h11.5M760.63 374.71h11.5M773.13 373.39V374.73M767.38 373.39h11.5M767.38 374.73h11.5M779.88 373.45V374.75M774.13 373.45h11.5M774.13 374.75h11.5M786.63 373.52V374.77M780.88 373.52h11.5M780.88 374.77h11.5"/><path fill="#00cc66" stroke="none" d="M118.38 457.11l-7.45 10.9h14.9zM125.12 444.81l-7.45 10.9h14.9zM131.88 431.91l-7.45 10.9h14.9zM138.62 421.45l-7.45 10.9h14.9zM145.38 413.46l-7.45 10.9h14.9zM152.12 407.78l-7.45 10.9h14.9zM158.88 402.7l-7.45 10.9h14.9zM165.62 398.09l-7.45 10.9h14.9zM172.38 394.1l-7.45 10.9h14.9zM179.12 390.72l-7.45 10.9h14.9zM185.88 387.95l-7.45 10.9h14.9zM192.62 385.65l-7.45 10.9h14.9zM199.38 383.8l-7.45 10.9h14.9zM206.12 382.14l-7.45 10.9h14.9zM212.88 380.52l-7.45 10.9h14.9zM219.62 379.01l-7.45 10.9h14.9zM226.38 377.72l-7.45 10.9h14.9zM233.12 376.73l-7.45 10.9h14.9zM239.88 375.98l-7.45 10.9h14.9zM246.63 375.34l-7.45 10.9h14.9zM253.38 374.78l-7.45 10.9h14.9zM260.12 374.27l-7.45 10.9h14.9zM266.88 373.8l-7.45 10.9h14.9zM273.62 373.34l-7.45 10.9h14.9zM280.38 372.87l-7.45 10.9h14.9zM287.12 372.38l-7.45 10.9h14.9zM293.88 371.9l-7.45 10.9h14.9zM300.62 371.46l-7.45 10.9h14.9zM307.38 371.07l-7.45 10.9h14.9zM314.12 370.71l-7.45 10.9h14.9zM320.88 370.33l-7.45 10.9h14.9zM327.62 369.95l-7.45 10.9h14.9zM334.38 369.61l-7.45 10.9h14.9zM341.12 369.31l-7.45 10.9h14.9zM347.88 369.07l-7.45 10.9h14.9zM354.62 368.93l-7.45 10.9h14.9zM361.38 368.89l-7.45 10.9h14.9zM368.13 368.89l-7.45 10.9h14.9zM374.88 368.89l-7.45 10.9h14.9zM381.62 368.89l-7.45 10.9h14.9zM388.38 368.89l-7.45 10.9h14.9zM395.13 368.89l-7.45 10.9h14.9zM401.88 368.89l-7.45 10.9h14.9zM408.63 368.89l-7.45 10.9h14.9zM415.38 368.89l-7.45 10.9h14.9zM422.13 368.89l-7.45 10.9h14.9zM428.88 368.89l-7.45 10.9h14.9zM435.62 368.87l-7.45 10.9h14.9zM442.38 368.85l-7.45 10.9h14.9zM449.13 368.81l-7.45 10.9h14.9zM455.88 368.77l-7.45 10.9h14.9zM462.63 368.72l-7.45 10.9h14.9zM469.38 368.68l-7.45 10.9h14.9zM476.13 368.62l-7.45 10.9h14.9zM482.88 368.58l-7.45 10.9h14.9zM489.63 368.52l-7.45 10.9h14.9zM496.38 368.45l-7.45 10.9h14.9zM503.13 368.37l-7.45 10.9h14.9zM509.88 368.29l-7.45 10.9h14.9zM516.62 368.19l-7.45 10.9h14.9zM523.38 368.1l-7.45 10.9h14.9zM530.12 368l-7.45 10.9h14.9zM536.88 367.89l-7.45 10.9h14.9zM543.62 367.78l-7.45 10.9h14.9zM550.38 367.68l-7.45 10.9h14.9zM557.13 367.57l-7.45 10.9h14.9zM563.88 367.47l-7.45 10.9h14.9zM570.62 367.37l-7.45 10.9h14.9zM577.38 367.28l-7.45 10.9h14.9zM584.12 367.19l-7.45 10.9h14.9zM590.88 367.11l-7.45 10.9h14.9zM597.63 367.04l-7.45 10.9h14.9zM604.38 366.98l-7.45 10.9h14.9zM611.12 366.9l-7.45 10.9h14.9zM617.88 366.83l-7.45 10.9h14.9zM624.62 366.76l-7.45 10.9h14.9zM631.38 366.7l-7.45 10.9h14.9zM638.13 366.65l-7.45 10.9h14.9zM644.88 366.61l-7.45 10.9h14.9zM651.62 366.59l-7.45 10.9h14.9zM658.38 366.59l-7.45 10.9h14.9zM665.13 366.59l-7.45 10.9h14.9zM671.88 366.59l-7.45 10.9h14.9zM678.63 366.59l-7.45 10.9h14.9zM685.38 366.59l-7.45 10.9h14.9zM692.12 366.59l-7.45 10.9h14.9zM698.88 366.6l-7.45 10.9h14.9zM705.63 366.61l-7.45 10.9h14.9zM712.38 366.61l-7.45 10.9h14.9zM719.13 366.62l-7.45 10.9h14.9zM725.88 366.64l-7.45 10.9h14.9zM732.62 366.65l-7.45 10.9h14.9zM739.38 366.67l-7.45 10.9h14.9zM746.13 366.69l-7.45 10.9h14.9zM752.88 366.71l-7.45 10.9h14.9zM759.63 366.74l-7.45 10.9h14.9zM766.38 366.77l-7.45 10.9h14.9zM773.13 366.81l-7.45 10.9h14.9zM779.88 366.85l-7.45 10.9h14.9zM786.63 366.9l-7.45 10.9h14.9z"/></g>
<g stroke="#cccc00" stroke-opacity="0.6" stroke-width="1.5" fill="none"><path d="M118.38 463.11V463.77"/><path d="M112.62 463.11h11.5"/><path d="M112.62 463.77h11.5"/><circle cx="118.38" cy="463.44" r="5.5"/><path d="M125.12 432.49V433.22"/><path d="M119.38 432.49h11.5"/><path d="M119.38 433.22h11.5"/><circle cx="125.12" cy="432.85" r="5.5"/><path d="M131.88 411.85V412.67"/><path d="M126.12 411.85h11.5"/><path d="M126.12 412.67h11.5"/><circle cx="131.88" cy="412.26" r="5.5"/><path d="M138.62 398.29V399.18"/><path d="M132.88 398.29h11.5"/><path d="M132.88 399.18h11.5"/><circle cx="138.62" cy="398.74" r="5.5"/><path d="M145.38 388.43V389.37"/><path d="M139.62 388.43h11.5"/><path d="M139.62 389.37h11.5"/><circle cx="145.38" cy="388.9" r="5.5"/><path d="M152.12 379.64V380.64"/><path d="M146.38 379.64h11.5"/><path d="M146.38 380.64h11.5"/><circle cx="152.12" cy="380.14" r="5.5"/><path d="M158.88 371.94V372.97"/><path d="M153.12 371.94h11.5"/><path d="M153.12 372.97h11.5"/><circle cx="158.88" cy="372.45" r="5.5"/><path d="M165.62 367V368.07"/><path d="M159.88 367h11.5"/><path d="M159.88 368.07h11.5"/><circle cx="165.62" cy="367.54" r="5.5"/><path d="M172.38 363V364.08"/><path d="M166.62 363h11.5"/><path d="M166.62 364.08h11.5"/><circle cx="172.38" cy="363.54" r="5.5"/><path d="M179.12 359.93V361"/><path d="M173.38 359.93h11.5"/><path d="M173.38 361h11.5"/><circle cx="179.12" cy="360.47" r="5.5"/><path d="M185.88 358.08V359.16"/><path d="M180.12 358.08h11.5"/><path d="M180.12 359.16h11.5"/><circle cx="185.88" cy="358.62" r="5.5"/><path d="M192.62 357.16V358.24"/><path d="M186.88 357.16h11.5"/><path d="M186.88 358.24h11.5"/><circle cx="192.62" cy="357.7" r="5.5"/><path d="M199.38 356.39V357.47"/><path d="M193.62 356.39h11.5"/><path d="M193.62 357.47h11.5"/><circle cx="199.38" cy="356.93" r="5.5"/><path d="M206.12 355.93V357.01"/><path d="M200.38 355.93h11.5"/><path d="M200.38 357.01h11.5"/><circle cx="206.12" cy="356.47" r="5.5"/><path d="M212.88 355.82V356.9"/><path d="M207.12 355.82h11.5"/><path d="M207.12 356.9h11.5"/><circle cx="212.88" cy="356.36" r="5.5"/><path d="M219.62 355.78V356.86"/><path d="M213.88 355.78h11.5"/><path d="M213.88 356.86h11.5"/><circle cx="219.62" cy="356.32" r="5.5"/><path d="M226.38 355.93V357"/><path d="M220.62 355.93h11.5"/><path d="M220.62 357h11.5"/><circle cx="226.38" cy="356.46" r="5.5"/><path d="M233.12 356.28V357.35"/><path d="M227.38 356.28h11.5"/><path d="M227.38 357.35h11.5"/><circle cx="233.12" cy="356.81" r="5.5"/><path d="M239.88 356.7V357.78"/><path d="M234.12 356.7h11.5"/><path d="M234.12 357.78h11.5"/><circle cx="239.88" cy="357.24" r="5.5"/><path d="M246.63 357.24V358.31"/><path d="M240.88 357.24h11.5"/><path d="M240.88 358.31h11.5"/><circle cx="246.63" cy="357.77" r="5.5"/><path d="M253.38 357.94V359.01"/><path d="M247.62 357.94h11.5"/><path d="M247.62 359.01h11.5"/><circle cx="253.38" cy="358.48" r="5.5"/><path d="M260.12 358.72V359.79"/><path d="M254.38 358.72h11.5"/><path d="M254.38 359.79h11.5"/><circle cx="260.12" cy="359.25" r="5.5"/><path d="M266.88 359.47V360.54"/><path d="M261.12 359.47h11.5"/><path d="M261.12 360.54h11.5"/><circle cx="266.88" cy="360.01" r="5.5"/><path d="M273.62 360.18V361.24"/><path d="M267.88 360.18h11.5"/><path d="M267.88 361.24h11.5"/><circle cx="273.62" cy="360.71" r="5.5"/><path d="M280.38 360.88V361.93"/><path d="M274.62 360.88h11.5"/><path d="M274.62 361.93h11.5"/><circle cx="280.38" cy="361.4" r="5.5"/><path d="M287.12 361.58V362.63"/><path d="M281.38 361.58h11.5"/><path d="M281.38 362.63h11.5"/><circle cx="287.12" cy="362.11" r="5.5"/><path d="M293.88 362.31V363.35"/><path d="M288.12 362.31h11.5"/><path d="M288.12 363.35h11.5"/><circle cx="293.88" cy="362.83" r="5.5"/><path d="M300.62 363.07V364.11"/><path d="M294.88 363.07h11.5"/><path d="M294.88 364.11h11.5"/><circle cx="300.62" cy="363.59" r="5.5"/><path d="M307.38 363.89V364.92"/><path d="M301.62 363.89h11.5"/><path d="M301.62 364.92h11.5"/><circle cx="307.38" cy="364.4" r="5.5"/><path d="M314.12 364.79V365.81"/><path d="M308.38 364.79h11.5"/><path d="M308.38 365.81h11.5"/><circle cx="314.12" cy="365.3" r="5.5"/><path d="M320.88 365.79V366.81"/><path d="M315.12 365.79h11.5"/><path d="M315.12 366.81h11.5"/><circle cx="320.88" cy="366.3" r="5.5"/><path d="M327.62 366.85V367.85"/><path d="M321.88 366.85h11.5"/><path d="M321.88 367.85h11.5"/><circle cx="327.62" cy="367.35" r="5.5"/><path d="M334.38 367.9V368.9"/><path d="M328.62 367.9h11.5"/><path d="M328.62 368.9h11.5"/><circle cx="334.38" cy="368.4" r="5.5"/><path d="M341.12 368.92V369.91"/><path d="M335.38 368.92h11.5"/><path d="M335.38 369.91h11.5"/><circle cx="341.12" cy="369.41" r="5.5"/><path d="M347.88 369.85V370.83"/><path d="M342.12 369.85h11.5"/><path d="M342.12 370.83h11.5"/><circle cx="347.88" cy="370.34" r="5.5"/><path d="M354.62 370.78V371.76"/><path d="M348.88 370.78h11.5"/><path d="M348.88 371.76h11.5"/><circle cx="354.62" cy="371.27" r="5.5"/><path d="M361.38 371.73V372.69"/><path d="M355.62 371.73h11.5"/><path d="M355.62 372.69h11.5"/><circle cx="361.38" cy="372.21" r="5.5"/><path d="M368.13 372.62V373.58"/><path d="M362.38 372.62h11.5"/><path d="M362.38 373.58h11.5"/><circle cx="368.13" cy="373.1" r="5.5"/><path d="M374.88 373.42V374.37"/><path d="M369.13 373.42h11.5"/><path d="M369.13 374.37h11.5"/><circle cx="374.88" cy="373.89" r="5.5"/><path d="M381.62 374.05V374.99"/><path d="M375.88 374.05h11.5"/><path d="M375.88 374.99h11.5"/><circle cx="381.62" cy="374.52" r="5.5"/><path d="M388.38 374.5V375.43"/><path d="M382.63 374.5h11.5"/><path d="M382.63 375.43h11.5"/><circle cx="388.38" cy="374.97" r="5.5"/><path d="M395.13 374.89V375.82"/><path d="M389.38 374.89h11.5"/><path d="M389.38 375.82h11.5"/><circle cx="395.13" cy="375.35" r="5.5"/><path d="M401.88 375.25V376.17"/><path d="M396.12 375.25h11.5"/><path d="M396.12 376.17h11.5"/><circle cx="401.88" cy="375.71" r="5.5"/><path d="M408.63 375.58V376.49"/><path d="M402.88 375.58h11.5"/><path d="M402.88 376.49h11.5"/><circle cx="408.63" cy="376.03" r="5.5"/><path d="M415.38 375.87V376.78"/><path d="M409.62 375.87h11.5"/><path d="M409.62 376.78h11.5"/><circle cx="415.38" cy="376.32" r="5.5"/><path d="M422.13 376.12V377.02"/><path d="M416.38 376.12h11.5"/><path d="M416.38 377.02h11.5"/><circle cx="422.13" cy="376.57" r="5.5"/><path d="M428.88 376.33V377.23"/><path d="M423.13 376.33h11.5"/><path d="M423.13 377.23h11.5"/><circle cx="428.88" cy="376.78" r="5.5"/><path d="M435.62 376.49V377.39"/><path d="M429.88 376.49h11.5"/><path d="M429.88 377.39h11.5"/><circle cx="435.62" cy="376.94" r="5.5"/><path d="M442.38 376.61V377.5"/><path d="M436.63 376.61h11.5"/><path d="M436.63 377.5h11.5"/><circle cx="442.38" cy="377.06" r="5.5"/><path d="M449.13 376.7V377.59"/><path d="M443.38 376.7h11.5"/><path d="M443.38 377.59h11.5"/><circle cx="449.13" cy="377.15" r="5.5"/><path d="M455.88 376.79V377.67"/><path d="M450.12 376.79h11.5"/><path d="M450.12 377.67h11.5"/><circle cx="455.88" cy="377.23" r="5.5"/><path d="M462.63 376.87V377.74"/><path d="M456.88 376.87h11.5"/><path d="M456.88 377.74h11.5"/><circle cx="462.63" cy="377.3" r="5.5"/><path d="M469.38 376.94V377.8"/><path d="M463.63 376.94h11.5"/><path d="M463.63 377.8h11.5"/><circle cx="469.38" cy="377.37" r="5.5"/><path d="M476.13 377V377.86"/><path d="M470.38 377h11.5"/><path d="M470.38 377.86h11.5"/><circle cx="476.13" cy="377.43" r="5.5"/><path d="M482.88 377.04V377.9"/><path d="M477.13 377.04h11.5"/><path d="M477.13 377.9h11.5"/><circle cx="482.88" cy="377.47" r="5.5"/><path d="M489.63 377.08V377.93"/><path d="M483.88 377.08h11.5"/><path d="M483.88 377.93h11.5"/><circle cx="489.63" cy="377.5" r="5.5"/><path d="M496.38 377.1V377.95"/><path d="M490.63 377.1h11.5"/><path d="M490.63 377.95h11.5"/><circle cx="496.38" cy="377.52" r="5.5"/><path d="M503.13 377.11V377.95"/><path d="M497.38 377.11h11.5"/><path d="M497.38 377.95h11.5"/><circle cx="503.13" cy="377.53" r="5.5"/><path d="M509.88 377.1V377.94"/><path d="M504.13 377.1h11.5"/><path d="M504.13 377.94h11.5"/><circle cx="509.88" cy="377.52" r="5.5"/><path d="M516.62 377.09V377.92"/><path d="M510.88 377.09h11.5"/><path d="M510.88 377.92h11.5"/><circle cx="516.62" cy="377.51" r="5.5"/><path d="M523.38 377.07V377.9"/><path d="M517.62 377.07h11.5"/><path d="M517.62 377.9h11.5"/><circle cx="523.38" cy="377.49" r="5.5"/><path d="M530.12 377.05V377.87"/><path d="M524.38 377.05h11.5"/><path d="M524.38 377.87h11.5"/><circle cx="530.12" cy="377.46" r="5.5"/><path d="M536.88 377.03V377.84"/><path d="M531.12 377.03h11.5"/><path d="M531.12 377.84h11.5"/><circle cx="536.88" cy="377.43" r="5.5"/><path d="M543.62 376.99V377.8"/><path d="M537.88 376.99h11.5"/><path d="M537.88 377.8h11.5"/><circle cx="543.62" cy="377.4" r="5.5"/><path d="M550.38 376.96V377.76"/><path d="M544.62 376.96h11.5"/><path d="M544.62 377.76h11.5"/><circle cx="550.38" cy="377.36" r="5.5"/><path d="M557.13 376.92V377.72"/><path d="M551.38 376.92h11.5"/><path d="M551.38 377.72h11.5"/><circle cx="557.13" cy="377.32" r="5.5"/><path d="M563.88 376.88V377.67"/><path d="M558.12 376.88h11.5"/><path d="M558.12 377.67h11.5"/><circle cx="563.88" cy="377.28" r="5.5"/><path d="M570.62 376.84V377.63"/><path d="M564.88 376.84h11.5"/><path d="M564.88 377.63h11.5"/><circle cx="570.62" cy="377.23" r="5.5"/><path d="M577.38 376.8V377.58"/><path d="M571.63 376.8h11.5"/><path d="M571.63 377.58h11.5"/><circle cx="577.38" cy="377.19" r="5.5"/><path d="M584.12 376.76V377.53"/><path d="M578.38 376.76h11.5"/><path d="M578.38 377.53h11.5"/><circle cx="584.12" cy="377.15" r="5.5"/><path d="M590.88 376.72V377.49"/><path d="M585.12 376.72h11.5"/><path d="M585.12 377.49h11.5"/><circle cx="590.88" cy="377.1" r="5.5"/><path d="M597.63 376.68V377.44"/><path d="M591.88 376.68h11.5"/><path d="M591.88 377.44h11.5"/><circle cx="597.63" cy="377.06" r="5.5"/><path d="M604.38 376.64V377.4"/><path d="M598.62 376.64h11.5"/><path d="M598.62 377.4h11.5"/><circle cx="604.38" cy="377.02" r="5.5"/><path d="M611.12 376.6V377.35"/><path d="M605.38 376.6h11.5"/><path d="M605.38 377.35h11.5"/><circle cx="611.12" cy="376.97" r="5.5"/><path d="M617.88 376.55V377.3"/><path d="M612.12 376.55h11.5"/><path d="M612.12 377.3h11.5"/><circle cx="617.88" cy="376.93" r="5.5"/><path d="M624.62 376.5V377.25"/><path d="M618.88 376.5h11.5"/><path d="M618.88 377.25h11.5"/><circle cx="624.62" cy="376.88" r="5.5"/><path d="M631.38 376.45V377.19"/><path d="M625.62 376.45h11.5"/><path d="M625.62 377.19h11.5"/><circle cx="631.38" cy="376.82" r="5.5"/><path d="M638.13 376.4V377.13"/><path d="M632.38 376.4h11.5"/><path d="M632.38 377.13h11.5"/><circle cx="638.13" cy="376.77" r="5.5"/><path d="M644.88 376.35V377.07"/><path d="M639.12 376.35h11.5"/><path d="M639.12 377.07h11.5"/><circle cx="644.88" cy="376.71" r="5.5"/><path d="M651.62 376.29V377.01"/><path d="M645.88 376.29h11.5"/><path d="M645.88 377.01h11.5"/><circle cx="651.62" cy="376.65" r="5.5"/><path d="M658.38 376.24V376.95"/><path d="M652.63 376.24h11.5"/><path d="M652.63 376.95h11.5"/><circle cx="658.38" cy="376.6" r="5.5"/><path d="M665.13 376.18V376.89"/><path d="M659.38 376.18h11.5"/><path d="M659.38 376.89h11.5"/><circle cx="665.13" cy="376.54" r="5.5"/><path d="M671.88 376.13V376.83"/><path d="M666.12 376.13h11.5"/><path d="M666.12 376.83h11.5"/><circle cx="671.88" cy="376.48" r="5.5"/><path d="M678.63 376.07V376.77"/><path d="M672.88 376.07h11.5"/><path d="M672.88 376.77h11.5"/><circle cx="678.63" cy="376.42" r="5.5"/><path d="M685.38 376.02V376.71"/><path d="M679.63 376.02h11.5"/><path d="M679.63 376.71h11.5"/><circle cx="685.38" cy="376.36" r="5.5"/><path d="M692.12 375.96V376.65"/><path d="M686.38 375.96h11.5"/><path d="M686.38 376.65h11.5"/><circle cx="692.12" cy="376.31" r="5.5"/><path d="M698.88 375.91V376.6"/><path d="M693.13 375.91h11.5"/><path d="M693.13 376.6h11.5"/><circle cx="698.88" cy="376.25" r="5.5"/><path d="M705.63 375.86V376.54"/><path d="M699.88 375.86h11.5"/><path d="M699.88 376.54h11.5"/><circle cx="705.63" cy="376.2" r="5.5"/><path d="M712.38 375.81V376.48"/><path d="M706.62 375.81h11.5"/><path d="M706.62 376.48h11.5"/><circle cx="712.38" cy="376.14" r="5.5"/><path d="M719.13 375.75V376.42"/><path d="M713.38 375.75h11.5"/><path d="M713.38 376.42h11.5"/><circle cx="719.13" cy="376.09" r="5.5"/><path d="M725.88 375.7V376.36"/><path d="M720.13 375.7h11.5"/><path d="M720.13 376.36h11.5"/><circle cx="725.88" cy="376.03" r="5.5"/><path d="M732.62 375.65V376.31"/><path d="M726.88 375.65h11.5"/><path d="M726.88 376.31h11.5"/><circle cx="732.62" cy="375.98" r="5.5"/><path d="M739.38 375.6V376.25"/><path d="M733.63 375.6h11.5"/><path d="M733.63 376.25h11.5"/><circle cx="739.38" cy="375.92" r="5.5"/><path d="M746.13 375.54V376.19"/><path d="M740.38 375.54h11.5"/><path d="M740.38 376.19h11.5"/><circle cx="746.13" cy="375.87" r="5.5"/><path d="M752.88 375.49V376.13"/><path d="M747.12 375.49h11.5"/><path d="M747.12 376.13h11.5"/><circle cx="752.88" cy="375.81" r="5.5"/><path d="M759.63 375.44V376.07"/><path d="M753.88 375.44h11.5"/><path d="M753.88 376.07h11.5"/><circle cx="759.63" cy="375.75" r="5.5"/><path d="M766.38 375.38V376.01"/><path d="M760.63 375.38h11.5"/><path d="M760.63 376.01h11.5"/><circle cx="766.38" cy="375.7" r="5.5"/><path d="M773.13 375.33V375.96"/><path d="M767.38 375.33h11.5"/><path d="M767.38 375.96h11.5"/><circle cx="773.13" cy="375.64" r="5.5"/><path d="M779.88 375.27V375.9"/><path d="M774.13 375.27h11.5"/><path d="M774.13 375.9h11.5"/><circle cx="779.88" cy="375.59" r="5.5"/><path d="M786.63 375.22V375.84"/><path d="M780.88 375.22h11.5"/><path d="M780.88 375.84h11.5"/><circle cx="786.63" cy="375.53" r="5.5"/></g>
<g stroke="#cc0000" stroke-opacity="0.6" stroke-width="1.5" fill="none"><path d="M118.38 445.42V446.1"/><path d="M112.62 445.42h11.5"/><path d="M112.62 446.1h11.5"/><circle cx="118.38" cy="445.76" r="5.5"/><path d="M125.12 405.09V405.9"/><path d="M119.38 405.09h11.5"/><path d="M119.38 405.9h11.5"/><circle cx="125.12" cy="405.5" r="5.5"/><path d="M131.88 379.98V380.92"/><path d="M126.12 379.98h11.5"/><path d="M126.12 380.92h11.5"/><circle cx="131.88" cy="380.45" r="5.5"/><path d="M138.62 363.32V364.38"/><path d="M132.88 363.32h11.5"/><path d="M132.88 364.38h11.5"/><circle cx="138.62" cy="363.85" r="5.5"/><path d="M145.38 348.97V350.14"/><path d="M139.62 348.97h11.5"/><path d="M139.62 350.14h11.5"/><circle cx="145.38" cy="349.56" r="5.5"/><path d="M152.12 339.55V340.81"/><path d="M146.38 339.55h11.5"/><path d="M146.38 340.81h11.5"/><circle cx="152.12" cy="340.18" r="5.5"/><path d="M158.88 332.6V333.93"/><path d="M153.12 332.6h11.5"/><path d="M153.12 333.93h11.5"/><circle cx="158.88" cy="333.26" r="5.5"/><path d="M165.62 327.36V328.72"/><path d="M159.88 327.36h11.5"/><path d="M159.88 328.72h11.5"/><circle cx="165.62" cy="328.04" r="5.5"/><path d="M172.38 323.51V324.89"/><path d="M166.62 323.51h11.5"/><path d="M166.62 324.89h11.5"/><circle cx="172.38" cy="324.2" r="5.5"/><path d="M179.12 321.05V322.43"/><path d="M173.38 321.05h11.5"/><path d="M173.38 322.43h11.5"/><circle cx="179.12" cy="321.74" r="5.5"/><path d="M185.88 319.66V321.05"/><path d="M180.12 319.66h11.5"/><path d="M180.12 321.05h11.5"/><circle cx="185.88" cy="320.35" r="5.5"/><path d="M192.62 319.05V320.43"/><path d="M186.88 319.05h11.5"/><path d="M186.88 320.43h11.5"/><circle cx="192.62" cy="319.74" r="5.5"/><path d="M199.38 319.05V320.43"/><path d="M193.62 319.05h11.5"/><path d="M193.62 320.43h11.5"/><circle cx="199.38" cy="319.74" r="5.5"/><path d="M206.12 319.51V320.89"/><path d="M200.38 319.51h11.5"/><path d="M200.38 320.89h11.5"/><circle cx="206.12" cy="320.2" r="5.5"/><path d="M212.88 320.43V321.81"/><path d="M207.12 320.43h11.5"/><path d="M207.12 321.81h11.5"/><circle cx="212.88" cy="321.12" r="5.5"/><path d="M219.62 321.4V322.78"/><path d="M213.88 321.4h11.5"/><path d="M213.88 322.78h11.5"/><circle cx="219.62" cy="322.09" r="5.5"/><path d="M226.38 322.58V323.97"/><path d="M220.62 322.58h11.5"/><path d="M220.62 323.97h11.5"/><circle cx="226.38" cy="323.27" r="5.5"/><path d="M233.12 324.41V325.8"/><path d="M227.38 324.41h11.5"/><path d="M227.38 325.8h11.5"/><circle cx="233.12" cy="325.1" r="5.5"/><path d="M239.88 326.73V328.11"/><path d="M234.12 326.73h11.5"/><path d="M234.12 328.11h11.5"/><circle cx="239.88" cy="327.42" r="5.5"/><path d="M246.63 329.43V330.81"/><path d="M240.88 329.43h11.5"/><path d="M240.88 330.81h11.5"/><circle cx="246.63" cy="330.12" r="5.5"/><path d="M253.38 332.43V333.79"/><path d="M247.62 332.43h11.5"/><path d="M247.62 333.79h11.5"/><circle cx="253.38" cy="333.11" r="5.5"/><path d="M260.12 335.68V337.04"/><path d="M254.38 335.68h11.5"/><path d="M254.38 337.04h11.5"/><circle cx="260.12" cy="336.36" r="5.5"/><path d="M266.88 338.74V340.08"/><path d="M261.12 338.74h11.5"/><path d="M261.12 340.08h11.5"/><circle cx="266.88" cy="339.41" r="5.5"/><path d="M273.62 341.19V342.52"/><path d="M267.88 341.19h11.5"/><path d="M267.88 342.52h11.5"/><circle cx="273.62" cy="341.86" r="5.5"/><path d="M280.38 343.4V344.71"/><path d="M274.62 343.4h11.5"/><path d="M274.62 344.71h11.5"/><circle cx="280.38" cy="344.05" r="5.5"/><path d="M287.12 345.44V346.72"/><path d="M281.38 345.44h11.5"/><path d="M281.38 346.72h11.5"/><circle cx="287.12" cy="346.08" r="5.5"/><path d="M293.88 347.38V348.64"/><path d="M288.12 347.38h11.5"/><path d="M288.12 348.64h11.5"/><circle cx="293.88" cy="348.01" r="5.5"/><path d="M300.62 349.29V350.54"/><path d="M294.88 349.29h11.5"/><path d="M294.88 350.54h11.5"/><circle cx="300.62" cy="349.92" r="5.5"/><path d="M307.38 351.26V352.48"/><path d="M301.62 351.26h11.5"/><path d="M301.62 352.48h11.5"/><circle cx="307.38" cy="351.87" r="5.5"/><path d="M314.12 353.32V354.51"/><path d="M308.38 353.32h11.5"/><path d="M308.38 354.51h11.5"/><circle cx="314.12" cy="353.91" r="5.5"/><path d="M320.88 355.41V356.58"/><path d="M315.12 355.41h11.5"/><path d="M315.12 356.58h11.5"/><circle cx="320.88" cy="355.99" r="5.5"/><path d="M327.62 357.51V358.66"/><path d="M321.88 357.51h11.5"/><path d="M321.88 358.66h11.5"/><circle cx="327.62" cy="358.08" r="5.5"/><path d="M334.38 359.59V360.7"/><path d="M328.62 359.59h11.5"/><path d="M328.62 360.7h11.5"/><circle cx="334.38" cy="360.14" r="5.5"/><path d="M341.12 361.59V362.69"/><path d="M335.38 361.59h11.5"/><path d="M335.38 362.69h11.5"/><circle cx="341.12" cy="362.14" r="5.5"/><path d="M347.88 363.51V364.58"/><path d="M342.12 363.51h11.5"/><path d="M342.12 364.58h11.5"/><circle cx="347.88" cy="364.04" r="5.5"/><path d="M354.62 365.28V366.33"/><path d="M348.88 365.28h11.5"/><path d="M348.88 366.33h11.5"/><circle cx="354.62" cy="365.81" r="5.5"/><path d="M361.38 366.89V367.92"/><path d="M355.62 366.89h11.5"/><path d="M355.62 367.92h11.5"/><circle cx="361.38" cy="367.4" r="5.5"/><path d="M368.13 368.38V369.38"/><path d="M362.38 368.38h11.5"/><path d="M362.38 369.38h11.5"/><circle cx="368.13" cy="368.88" r="5.5"/><path d="M374.88 369.75V370.73"/><path d="M369.13 369.75h11.5"/><path d="M369.13 370.73h11.5"/><circle cx="374.88" cy="370.24" r="5.5"/><path d="M381.62 370.97V371.93"/><path d="M375.88 370.97h11.5"/><path d="M375.88 371.93h11.5"/><circle cx="381.62" cy="371.45" r="5.5"/><path d="M388.38 372.04V372.99"/><path d="M382.63 372.04h11.5"/><path d="M382.63 372.99h11.5"/><circle cx="388.38" cy="372.51" r="5.5"/><path d="M395.13 373.07V374.01"/><path d="M389.38 373.07h11.5"/><path d="M389.38 374.01h11.5"/><circle cx="395.13" cy="373.54" r="5.5"/><path d="M401.88 374.08V375"/><path d="M396.12 374.08h11.5"/><path d="M396.12 375h11.5"/><circle cx="401.88" cy="374.54" r="5.5"/><path d="M408.63 375.03V375.94"/><path d="M402.88 375.03h11.5"/><path d="M402.88 375.94h11.5"/><circle cx="408.63" cy="375.49" r="5.5"/><path d="M415.38 375.91V376.81"/><path d="M409.62 375.91h11.5"/><path d="M409.62 376.81h11.5"/><circle cx="415.38" cy="376.36" r="5.5"/><path d="M422.13 376.69V377.59"/><path d="M416.38 376.69h11.5"/><path d="M416.38 377.59h11.5"/><circle cx="422.13" cy="377.14" r="5.5"/><path d="M428.88 377.36V378.25"/><path d="M423.13 377.36h11.5"/><path d="M423.13 378.25h11.5"/><circle cx="428.88" cy="377.81" r="5.5"/><path d="M435.62 377.9V378.78"/><path d="M429.88 377.9h11.5"/><path d="M429.88 378.78h11.5"/><circle cx="435.62" cy="378.34" r="5.5"/><path d="M442.38 378.29V379.16"/><path d="M436.63 378.29h11.5"/><path d="M436.63 379.16h11.5"/><circle cx="442.38" cy="378.73" r="5.5"/><path d="M449.13 378.61V379.47"/><path d="M443.38 378.61h11.5"/><path d="M443.38 379.47h11.5"/><circle cx="449.13" cy="379.04" r="5.5"/><path d="M455.88 378.89V379.75"/><path d="M450.12 378.89h11.5"/><path d="M450.12 379.75h11.5"/><circle cx="455.88" cy="379.32" r="5.5"/><path d="M462.63 379.14V379.99"/><path d="M456.88 379.14h11.5"/><path d="M456.88 379.99h11.5"/><circle cx="462.63" cy="379.57" r="5.5"/><path d="M469.38 379.37V380.21"/><path d="M463.63 379.37h11.5"/><path d="M463.63 380.21h11.5"/><circle cx="469.38" cy="379.79" r="5.5"/><path d="M476.13 379.57V380.4"/><path d="M470.38 379.57h11.5"/><path d="M470.38 380.4h11.5"/><circle cx="476.13" cy="379.99" r="5.5"/><path d="M482.88 379.75V380.58"/><path d="M477.13 379.75h11.5"/><path d="M477.13 380.58h11.5"/><circle cx="482.88" cy="380.17" r="5.5"/><path d="M489.63 379.93V380.74"/><path d="M483.88 379.93h11.5"/><path d="M483.88 380.74h11.5"/><circle cx="489.63" cy="380.34" r="5.5"/><path d="M496.38 380.09V380.9"/><path d="M490.63 380.09h11.5"/><path d="M490.63 380.9h11.5"/><circle cx="496.38" cy="380.5" r="5.5"/><path d="M503.13 380.26V381.06"/><path d="M497.38 380.26h11.5"/><path d="M497.38 381.06h11.5"/><circle cx="503.13" cy="380.66" r="5.5"/><path d="M509.88 380.43V381.22"/><path d="M504.13 380.43h11.5"/><path d="M504.13 381.22h11.5"/><circle cx="509.88" cy="380.83" r="5.5"/><path d="M516.62 380.61V381.39"/><path d="M510.88 380.61h11.5"/><path d="M510.88 381.39h11.5"/><circle cx="516.62" cy="381" r="5.5"/><path d="M523.38 380.78V381.55"/><path d="M517.62 380.78h11.5"/><path d="M517.62 381.55h11.5"/><circle cx="523.38" cy="381.16" r="5.5"/><path d="M530.12 380.93V381.71"/><path d="M524.38 380.93h11.5"/><path d="M524.38 381.71h11.5"/><circle cx="530.12" cy="381.32" r="5.5"/><path d="M536.88 381.07V381.84"/><path d="M531.12 381.07h11.5"/><path d="M531.12 381.84h11.5"/><circle cx="536.88" cy="381.46" r="5.5"/><path d="M543.62 381.19V381.94"/><path d="M537.88 381.19h11.5"/><path d="M537.88 381.94h11.5"/><circle cx="543.62" cy="381.57" r="5.5"/><path d="M550.38 381.27V382.02"/><path d="M544.62 381.27h11.5"/><path d="M544.62 382.02h11.5"/><circle cx="550.38" cy="381.64" r="5.5"/><path d="M557.13 381.3V382.05"/><path d="M551.38 381.3h11.5"/><path d="M551.38 382.05h11.5"/><circle cx="557.13" cy="381.67" r="5.5"/><path d="M563.88 381.3V382.03"/><path d="M558.12 381.3h11.5"/><path d="M558.12 382.03h11.5"/><circle cx="563.88" cy="381.66" r="5.5"/><path d="M570.62 381.25V381.98"/><path d="M564.88 381.25h11.5"/><path d="M564.88 381.98h11.5"/><circle cx="570.62" cy="381.61" r="5.5"/><path d="M577.38 381.16V381.89"/><path d="M571.63 381.16h11.5"/><path d="M571.63 381.89h11.5"/><circle cx="577.38" cy="381.53" r="5.5"/><path d="M584.12 381.05V381.77"/><path d="M578.38 381.05h11.5"/><path d="M578.38 381.77h11.5"/><circle cx="584.12" cy="381.41" r="5.5"/><path d="M590.88 380.92V381.63"/><path d="M585.12 380.92h11.5"/><path d="M585.12 381.63h11.5"/><circle cx="590.88" cy="381.27" r="5.5"/><path d="M597.63 380.76V381.47"/><path d="M591.88 380.76h11.5"/><path d="M591.88 381.47h11.5"/><circle cx="597.63" cy="381.12" r="5.5"/><path d="M604.38 380.6V381.3"/><path d="M598.62 380.6h11.5"/><path d="M598.62 381.3h11.5"/><circle cx="604.38" cy="380.95" r="5.5"/><path d="M611.12 380.42V381.12"/><path d="M605.38 380.42h11.5"/><path d="M605.38 381.12h11.5"/><circle cx="611.12" cy="380.77" r="5.5"/><path d="M617.88 380.25V380.93"/><path d="M612.12 380.25h11.5"/><path d="M612.12 380.93h11.5"/><circle cx="617.88" cy="380.59" r="5.5"/><path d="M624.62 380.07V380.75"/><path d="M618.88 380.07h11.5"/><path d="M618.88 380.75h11.5"/><circle cx="624.62" cy="380.41" r="5.5"/><path d="M631.38 379.9V380.58"/><path d="M625.62 379.9h11.5"/><path d="M625.62 380.58h11.5"/><circle cx="631.38" cy="380.24" r="5.5"/><path d="M638.13 379.75V380.42"/><path d="M632.38 379.75h11.5"/><path d="M632.38 380.42h11.5"/><circle cx="638.13" cy="380.08" r="5.5"/><path d="M644.88 379.58V380.25"/><path d="M639.12 379.58h11.5"/><path d="M639.12 380.25h11.5"/><circle cx="644.88" cy="379.91" r="5.5"/><path d="M651.62 379.4V380.06"/><path d="M645.88 379.4h11.5"/><path d="M645.88 380.06h11.5"/><circle cx="651.62" cy="379.73" r="5.5"/><path d="M658.38 379.21V379.87"/><path d="M652.63 379.21h11.5"/><path d="M652.63 379.87h11.5"/><circle cx="658.38" cy="379.54" r="5.5"/><path d="M665.13 379.02V379.68"/><path d="M659.38 379.02h11.5"/><path d="M659.38 379.68h11.5"/><circle cx="665.13" cy="379.35" r="5.5"/><path d="M671.88 378.83V379.48"/><path d="M666.12 378.83h11.5"/><path d="M666.12 379.48h11.5"/><circle cx="671.88" cy="379.16" r="5.5"/><path d="M678.63 378.65V379.29"/><path d="M672.88 378.65h11.5"/><path d="M672.88 379.29h11.5"/><circle cx="678.63" cy="378.97" r="5.5"/><path d="M685.38 378.47V379.12"/><path d="M679.63 378.47h11.5"/><path d="M679.63 379.12h11.5"/><circle cx="685.38" cy="378.8" r="5.5"/><path d="M692.12 378.31V378.95"/><path d="M686.38 378.31h11.5"/><path d="M686.38 378.95h11.5"/><circle cx="692.12" cy="378.63" r="5.5"/><path d="M698.88 378.17V378.81"/><path d="M693.13 378.17h11.5"/><path d="M693.13 378.81h11.5"/><circle cx="698.88" cy="378.49" r="5.5"/><path d="M705.63 378.04V378.68"/><path d="M699.88 378.04h11.5"/><path d="M699.88 378.68h11.5"/><circle cx="705.63" cy="378.36" r="5.5"/><path d="M712.38 377.92V378.55"/><path d="M706.62 377.92h11.5"/><path d="M706.62 378.55h11.5"/><circle cx="712.38" cy="378.24" r="5.5"/><path d="M719.13 377.81V378.44"/><path d="M713.38 377.81h11.5"/><path d="M713.38 378.44h11.5"/><circle cx="719.13" cy="378.12" r="5.5"/><path d="M725.88 377.7V378.32"/><path d="M720.13 377.7h11.5"/><path d="M720.13 378.32h11.5"/><circle cx="725.88" cy="378.01" r="5.5"/><path d="M732.62 377.58V378.2"/><path d="M726.88 377.58h11.5"/><path d="M726.88 378.2h11.5"/><circle cx="732.62" cy="377.89" r="5.5"/><path d="M739.38 377.46V378.08"/><path d="M733.63 377.46h11.5"/><path d="M733.63 378.08h11.5"/><circle cx="739.38" cy="377.77" r="5.5"/><path d="M746.13 377.33V377.95"/><path d="M740.38 377.33h11.5"/><path d="M740.38 377.95h11.5"/><circle cx="746.13" cy="377.64" r="5.5"/><path d="M752.88 377.18V377.8"/><path d="M747.12 377.18h11.5"/><path d="M747.12 377.8h11.5"/><circle cx="752.88" cy="377.49" r="5.5"/><path d="M759.63 377.03V377.64"/><path d="M753.88 377.03h11.5"/><path d="M753.88 377.64h11.5"/><circle cx="759.63" cy="377.34" r="5.5"/><path d="M766.38 376.86V377.47"/><path d="M760.63 376.86h11.5"/><path d="M760.63 377.47h11.5"/><circle cx="766.38" cy="377.17" r="5.5"/><path d="M773.13 376.68V377.29"/><path d="M767.38 376.68h11.5"/><path d="M767.38 377.29h11.5"/><circle cx="773.13" cy="376.99" r="5.5"/><path d="M779.88 376.49V377.11"/><path d="M774.13 376.49h11.5"/><path d="M774.13 377.11h11.5"/><circle cx="779.88" cy="376.8" r="5.5"/><path d="M786.63 376.3V376.91"/><path d="M780.88 376.3h11.5"/><path d="M780.88 376.91h11.5"/><circle cx="786.63" cy="376.6" r="5.5"/></g>
<g stroke="#cccc00" stroke-width="1.5" fill="none"><path d="M118.38 426.2V427.83M112.62 426.2h11.5M112.62 427.83h11.5M125.12 408.89V410.71M119.38 408.89h11.5M119.38 410.71h11.5M131.88 390.35V392.36M126.12 390.35h11.5M126.12 392.36h11.5M138.62 373.35V375.56M132.88 373.35h11.5M132.88 375.56h11.5M145.38 360.64V363.06M139.62 360.64h11.5M139.62 363.06h11.5M152.12 351.32V353.94M146.38 351.32h11.5M146.38 353.94h11.5M158.88 343.85V346.66M153.12 343.85h11.5M153.12 346.66h11.5M165.62 338.38V341.37M159.88 338.38h11.5M159.88 341.37h11.5M172.38 334.14V337.3M166.62 334.14h11.5M166.62 337.3h11.5M179.12 330.69V334M173.38 330.69h11.5M173.38 334h11.5M185.88 328.47V331.91M180.12 328.47h11.5M180.12 331.91h11.5M192.62 326.88V330.43M186.88 326.88h11.5M186.88 330.43h11.5M199.38 325.92V329.55M193.62 325.92h11.5M193.62 329.55h11.5M206.12 324.97V328.65M200.38 324.97h11.5M200.38 328.65h11.5M212.88 324.5V328.19M207.12 324.5h11.5M207.12 328.19h11.5M219.62 324.6V328.28M213.88 324.6h11.5M213.88 328.28h11.5M226.38 324.81V328.5M220.62 324.81h11.5M220.62 328.5h11.5M233.12 325.37V329.06M227.38 325.37h11.5M227.38 329.06h11.5M239.88 326.19V329.88M234.12 326.19h11.5M234.12 329.88h11.5M246.63 327.06V330.75M240.88 327.06h11.5M240.88 330.75h11.5M253.38 328.04V331.73M247.62 328.04h11.5M247.62 331.73h11.5M260.12 329.16V332.85M254.38 329.16h11.5M254.38 332.85h11.5M266.88 330.35V334.03M261.12 330.35h11.5M261.12 334.03h11.5M273.62 331.5V335.18M267.88 331.5h11.5M267.88 335.18h11.5M280.38 332.66V336.35M274.62 332.66h11.5M274.62 336.35h11.5M287.12 333.83V337.52M281.38 333.83h11.5M281.38 337.52h11.5M293.88 335V338.69M288.12 335h11.5M288.12 338.69h11.5M300.62 336.17V339.85M294.88 336.17h11.5M294.88 339.85h11.5M307.38 337.34V341.02M301.62 337.34h11.5M301.62 341.02h11.5M314.12 338.49V342.17M308.38 338.49h11.5M308.38 342.17h11.5M320.88 339.63V343.3M315.12 339.63h11.5M315.12 343.3h11.5M327.62 340.75V344.42M321.88 340.75h11.5M321.88 344.42h11.5M334.38 341.84V345.51M328.62 341.84h11.5M328.62 345.51h11.5M341.12 342.91V346.58M335.38 342.91h11.5M335.38 346.58h11.5M347.88 343.95V347.61M342.12 343.95h11.5M342.12 347.61h11.5M354.62 344.96V348.62M348.88 344.96h11.5M348.88 348.62h11.5M361.38 345.96V349.61M355.62 345.96h11.5M355.62 349.61h11.5M368.13 346.94V350.58M362.38 346.94h11.5M362.38 350.58h11.5M374.88 347.9V351.54M369.13 347.9h11.5M369.13 351.54h11.5M381.62 348.85V352.49M375.88 348.85h11.5M375.88 352.49h11.5M388.38 349.79V353.42M382.63 349.79h11.5M382.63 353.42h11.5M395.13 350.71V354.33M389.38 350.71h11.5M389.38 354.33h11.5M401.88 351.63V355.24M396.12 351.63h11.5M396.12 355.24h11.5M408.63 352.53V356.13M402.88 352.53h11.5M402.88 356.13h11.5M415.38 353.42V357.01M409.62 353.42h11.5M409.62 357.01h11.5M422.13 354.29V357.88M416.38 354.29h11.5M416.38 357.88h11.5M428.88 355.16V358.74M423.13 355.16h11.5M423.13 358.74h11.5M435.62 356.03V359.59M429.88 356.03h11.5M429.88 359.59h11.5M442.38 356.88V360.44M436.63 356.88h11.5M436.63 360.44h11.5M449.13 357.74V361.28M443.38 357.74h11.5M443.38 361.28h11.5M455.88 358.58V362.11M450.12 358.58h11.5M450.12 362.11h11.5M462.63 359.42V362.93M456.88 359.42h11.5M456.88 362.93h11.5M469.38 360.24V363.74M463.63 360.24h11.5M463.63 363.74h11.5M476.13 361.06V364.54M470.38 361.06h11.5M470.38 364.54h11.5M482.88 361.86V365.33M477.13 361.86h11.5M477.13 365.33h11.5M489.63 362.65V366.1M483.88 362.65h11.5M483.88 366.1h11.5M496.38 363.43V366.86M490.63 363.43h11.5M490.63 366.86h11.5M503.13 364.19V367.6M497.38 364.19h11.5M497.38 367.6h11.5M509.88 364.93V368.32M504.13 364.93h11.5M504.13 368.32h11.5M516.62 365.65V369.03M510.88 365.65h11.5M510.88 369.03h11.5M523.38 366.36V369.71M517.62 366.36h11.5M517.62 369.71h11.5M530.12 367.05V370.38M524.38 367.05h11.5M524.38 370.38h11.5M536.88 367.73V371.04M531.12 367.73h11.5M531.12 371.04h11.5M543.62 368.4V371.68M537.88 368.4h11.5M537.88 371.68h11.5M550.38 369.06V372.31M544.62 369.06h11.5M544.62 372.31h11.5M557.13 369.7V372.93M551.38 369.7h11.5M551.38 372.93h11.5M563.88 370.33V373.53M558.12 370.33h11.5M558.12 373.53h11.5M570.62 370.94V374.12M564.88 370.94h11.5M564.88 374.12h11.5M577.38 371.55V374.69M571.63 371.55h11.5M571.63 374.69h11.5M584.12 372.14V375.25M578.38 372.14h11.5M578.38 375.25h11.5M590.88 372.71V375.79M585.12 372.71h11.5M585.12 375.79h11.5M597.63 373.27V376.32M591.88 373.27h11.5M591.88 376.32h11.5M604.38 373.82V376.83M598.62 373.82h11.5M598.62 376.83h11.5M611.12 374.35V377.33M605.38 374.35h11.5M605.38 377.33h11.5M617.88 374.87V377.81M612.12 374.87h11.5M612.12 377.81h11.5M624.62 375.38V378.28M618.88 375.38h11.5M618.88 378.28h11.5M631.38 375.87V378.74M625.62 375.87h11.5M625.62 378.74h11.5M638.13 376.36V379.19M632.38 376.36h11.5M632.38 379.19h11.5M644.88 376.85V379.63M639.12 376.85h11.5M639.12 379.63h11.5M651.62 377.32V380.06M645.88 377.32h11.5M645.88 380.06h11.5M658.38 377.8V380.5M652.63 377.8h11.5M652.63 380.5h11.5M665.13 378.27V380.92M659.38 378.27h11.5M659.38 380.92h11.5M671.88 378.75V381.35M666.12 378.75h11.5M666.12 381.35h11.5M678.63 379.22V381.78M672.88 379.22h11.5M672.88 381.78h11.5M685.38 379.71V382.21M679.63 379.71h11.5M679.63 382.21h11.5M692.12 380.2V382.66M686.38 380.2h11.5M686.38 382.66h11.5M698.88 380.7V383.1M693.13 380.7h11.5M693.13 383.1h11.5M705.63 381.19V383.54M699.88 381.19h11.5M699.88 383.54h11.5M712.38 381.67V383.96M706.62 381.67h11.5M706.62 383.96h11.5M719.13 382.12V384.36M713.38 382.12h11.5M713.38 384.36h11.5M725.88 382.55V384.73M720.13 382.55h11.5M720.13 384.73h11.5M732.62 382.95V385.06M726.88 382.95h11.5M726.88 385.06h11.5M739.38 383.32V385.37M733.63 383.32h11.5M733.63 385.37h11.5M746.13 383.68V385.67M740.38 383.68h11.5M740.38 385.67h11.5M752.88 384.02V385.95M747.12 384.02h11.5M747.12 385.95h11.5M759.63 384.36V386.21M753.88 384.36h11.5M753.88 386.21h11.5M766.38 384.67V386.46M760.63 384.67h11.5M760.63 386.46h11.5M773.13 384.97V386.69M767.38 384.97h11.5M767.38 386.69h11.5M779.88 385.24V386.89M774.13 385.24h11.5M774.13 386.89h11.5M786.63 385.5V387.07M780.88 385.5h11.5M780.88 387.07h11.5"/><path fill="#cccc00" stroke="none" d="M118.38 419.76l-7.45 10.9h14.9zM125.12 402.55l-7.45 10.9h14.9zM131.88 384.11l-7.45 10.9h14.9zM138.62 367.2l-7.45 10.9h14.9zM145.38 354.6l-7.45 10.9h14.9zM152.12 345.38l-7.45 10.9h14.9zM158.88 338l-7.45 10.9h14.9zM165.62 332.62l-7.45 10.9h14.9zM172.38 328.47l-7.45 10.9h14.9zM179.12 325.09l-7.45 10.9h14.9zM185.88 322.94l-7.45 10.9h14.9zM192.62 321.4l-7.45 10.9h14.9zM199.38 320.48l-7.45 10.9h14.9zM206.12 319.56l-7.45 10.9h14.9zM212.88 319.1l-7.45 10.9h14.9zM219.62 319.19l-7.45 10.9h14.9zM226.38 319.41l-7.45 10.9h14.9zM233.12 319.96l-7.45 10.9h14.9zM239.88 320.79l-7.45 10.9h14.9zM246.63 321.65l-7.45 10.9h14.9zM253.38 322.63l-7.45 10.9h14.9zM260.12 323.76l-7.45 10.9h14.9zM266.88 324.94l-7.45 10.9h14.9zM273.62 326.09l-7.45 10.9h14.9zM280.38 327.25l-7.45 10.9h14.9zM287.12 328.42l-7.45 10.9h14.9zM293.88 329.6l-7.45 10.9h14.9zM300.62 330.76l-7.45 10.9h14.9zM307.38 331.93l-7.45 10.9h14.9zM314.12 333.08l-7.45 10.9h14.9zM320.88 334.22l-7.45 10.9h14.9zM327.62 335.33l-7.45 10.9h14.9zM334.38 336.43l-7.45 10.9h14.9zM341.12 337.49l-7.45 10.9h14.9zM347.88 338.53l-7.45 10.9h14.9zM354.62 339.54l-7.45 10.9h14.9zM361.38 340.53l-7.45 10.9h14.9zM368.13 341.51l-7.45 10.9h14.9zM374.88 342.47l-7.45 10.9h14.9zM381.62 343.42l-7.45 10.9h14.9zM388.38 344.35l-7.45 10.9h14.9zM395.13 345.27l-7.45 10.9h14.9zM401.88 346.18l-7.45 10.9h14.9zM408.63 347.08l-7.45 10.9h14.9zM415.38 347.96l-7.45 10.9h14.9zM422.13 348.84l-7.45 10.9h14.9zM428.88 349.7l-7.45 10.9h14.9zM435.62 350.56l-7.45 10.9h14.9zM442.38 351.41l-7.45 10.9h14.9zM449.13 352.26l-7.45 10.9h14.9zM455.88 353.09l-7.45 10.9h14.9zM462.63 353.92l-7.45 10.9h14.9zM469.38 354.74l-7.45 10.9h14.9zM476.13 355.55l-7.45 10.9h14.9zM482.88 356.35l-7.45 10.9h14.9zM489.63 357.13l-7.45 10.9h14.9zM496.38 357.89l-7.45 10.9h14.9zM503.13 358.65l-7.45 10.9h14.9zM509.88 359.38l-7.45 10.9h14.9zM516.62 360.09l-7.45 10.9h14.9zM523.38 360.79l-7.45 10.9h14.9zM530.12 361.47l-7.45 10.9h14.9zM536.88 362.14l-7.45 10.9h14.9zM543.62 362.79l-7.45 10.9h14.9zM550.38 363.43l-7.45 10.9h14.9zM557.13 364.06l-7.45 10.9h14.9zM563.88 364.68l-7.45 10.9h14.9zM570.62 365.28l-7.45 10.9h14.9zM577.38 365.87l-7.45 10.9h14.9zM584.12 366.44l-7.45 10.9h14.9zM590.88 367l-7.45 10.9h14.9zM597.63 367.55l-7.45 10.9h14.9zM604.38 368.08l-7.45 10.9h14.9zM611.12 368.59l-7.45 10.9h14.9zM617.88 369.09l-7.45 10.9h14.9zM624.62 369.58l-7.45 10.9h14.9zM631.38 370.06l-7.45 10.9h14.9zM638.13 370.53l-7.45 10.9h14.9zM644.88 370.99l-7.45 10.9h14.9zM651.62 371.44l-7.45 10.9h14.9zM658.38 371.9l-7.45 10.9h14.9zM665.13 372.35l-7.45 10.9h14.9zM671.88 372.8l-7.45 10.9h14.9zM678.63 373.25l-7.45 10.9h14.9zM685.38 373.71l-7.45 10.9h14.9zM692.12 374.18l-7.45 10.9h14.9zM698.88 374.65l-7.45 10.9h14.9zM705.63 375.11l-7.45 10.9h14.9zM712.38 375.56l-7.45 10.9h14.9zM719.13 375.99l-7.45 10.9h14.9zM725.88 376.39l-7.45 10.9h14.9zM732.62 376.76l-7.45 10.9h14.9zM739.38 377.1l-7.45 10.9h14.9zM746.13 377.42l-7.45 10.9h14.9zM752.88 377.74l-7.45 10.9h14.9zM759.63 378.03l-7.45 10.9h14.9zM766.38 378.31l-7.45 10.9h14.9zM773.13 378.58l-7.45 10.9h14.9zM779.88 378.82l-7.45 10.9h14.9zM786.63 379.04l-7.45 10.9h14.9z"/></g>
<g stroke="#cc0000" stroke-width="1.5" fill="none"><path d="M118.38 289.92V293.61M112.62 289.92h11.5M112.62 293.61h11.5M125.12 244.13V250.27M119.38 244.13h11.5M119.38 250.27h11.5M131.88 199.56V208.78M126.12 199.56h11.5M126.12 208.78h11.5M138.62 158.06V170.36M132.88 158.06h11.5M132.88 170.36h11.5M145.38 125.48V139M139.62 125.48h11.5M139.62 139h11.5M152.12 102.18V116.81M146.38 102.18h11.5M146.38 116.81h11.5M158.88 84.18V99.77M153.12 84.18h11.5M153.12 99.77h11.5M165.62 70.53V86.67M159.88 70.53h11.5M159.88 86.67h11.5M172.38 60.64V77.2M166.62 60.64h11.5M166.62 77.2h11.5M179.12 54.01V70.93M173.38 54.01h11.5M173.38 70.93h11.5M185.88 49.1V66.31M180.12 49.1h11.5M180.12 66.31h11.5M192.62 45.62V63.03M186.88 45.62h11.5M186.88 63.03h11.5M199.38 43.57V61.08M193.62 43.57h11.5M193.62 61.08h11.5M206.12 43.1V60.62M200.38 43.1h11.5M200.38 60.62h11.5M212.88 43.58V61.07M207.12 43.58h11.5M207.12 61.07h11.5M219.62 45.44V62.9M213.88 45.44h11.5M213.88 62.9h11.5M226.38 48.43V65.84M220.62 48.43h11.5M220.62 65.84h11.5M233.12 52.38V69.74M227.38 52.38h11.5M227.38 69.74h11.5M239.88 56.88V74.16M234.12 56.88h11.5M234.12 74.16h11.5M246.63 61.94V79.14M240.88 61.94h11.5M240.88 79.14h11.5M253.38 67.79V84.91M247.62 67.79h11.5M247.62 84.91h11.5M260.12 74.15V91.18M254.38 74.15h11.5M254.38 91.18h11.5M266.88 80.72V97.66M261.12 80.72h11.5M261.12 97.66h11.5M273.62 87.35V104.19M267.88 87.35h11.5M267.88 104.19h11.5M280.38 94.31V111.03M274.62 94.31h11.5M274.62 111.03h11.5M287.12 101.53V118.11M281.38 101.53h11.5M281.38 118.11h11.5M293.88 108.88V125.29M288.12 108.88h11.5M288.12 125.29h11.5M300.62 116.25V132.47M294.88 116.25h11.5M294.88 132.47h11.5M307.38 123.69V139.69M301.62 123.69h11.5M301.62 139.69h11.5M314.12 131.27V146.99M308.38 131.27h11.5M308.38 146.99h11.5M320.88 138.97V154.3M315.12 138.97h11.5M315.12 154.3h11.5M327.62 146.74V161.61M321.88 146.74h11.5M321.88 161.61h11.5M334.38 154.5V168.89M328.62 154.5h11.5M328.62 168.89h11.5M341.12 162.22V176.11M335.38 162.22h11.5M335.38 176.11h11.5M347.88 169.83V183.25M342.12 169.83h11.5M342.12 183.25h11.5M354.62 177.44V190.37M348.88 177.44h11.5M348.88 190.37h11.5M361.38 185.08V197.49M355.62 185.08h11.5M355.62 197.49h11.5M368.13 192.71V204.59M362.38 192.71h11.5M362.38 204.59h11.5M374.88 200.27V211.65M369.13 200.27h11.5M369.13 211.65h11.5M381.62 207.73V218.67M375.88 207.73h11.5M375.88 218.67h11.5M388.38 215.03V225.62M382.63 215.03h11.5M382.63 225.62h11.5M395.13 222.16V232.46M389.38 222.16h11.5M389.38 232.46h11.5M401.88 229.1V239.12M396.12 229.1h11.5M396.12 239.12h11.5M408.63 235.73V245.5M402.88 235.73h11.5M402.88 245.5h11.5M415.38 242.28V251.82M409.62 242.28h11.5M409.62 251.82h11.5M422.13 248.91V258.19M416.38 248.91h11.5M416.38 258.19h11.5M428.88 255.58V264.59M423.13 255.58h11.5M423.13 264.59h11.5M435.62 262.26V270.99M429.88 262.26h11.5M429.88 270.99h11.5M442.38 268.92V277.37M436.63 268.92h11.5M436.63 277.37h11.5M449.13 275.55V283.7M443.38 275.55h11.5M443.38 283.7h11.5M455.88 282.11V289.98M450.12 282.11h11.5M450.12 289.98h11.5M462.63 288.58V296.16M456.88 288.58h11.5M456.88 296.16h11.5M469.38 294.94V302.24M463.63 294.94h11.5M463.63 302.24h11.5M476.13 301.16V308.19M470.38 301.16h11.5M470.38 308.19h11.5M482.88 307.28V314.05M477.13 307.28h11.5M477.13 314.05h11.5M489.63 313.3V319.82M483.88 313.3h11.5M483.88 319.82h11.5M496.38 319.21V325.49M490.63 319.21h11.5M490.63 325.49h11.5M503.13 325V331.07M497.38 325h11.5M497.38 331.07h11.5M509.88 330.67V336.53M504.13 330.67h11.5M504.13 336.53h11.5M516.62 336.21V341.85M510.88 336.21h11.5M510.88 341.85h11.5M523.38 341.59V347.02M517.62 341.59h11.5M517.62 347.02h11.5M530.12 346.84V352.06M524.38 346.84h11.5M524.38 352.06h11.5M536.88 351.99V357.01M531.12 351.99h11.5M531.12 357.01h11.5M543.62 357.07V361.9M537.88 357.07h11.5M537.88 361.9h11.5M550.38 362.14V366.78M544.62 362.14h11.5M544.62 366.78h11.5M557.13 367.15V371.6M551.38 367.15h11.5M551.38 371.6h11.5M563.88 371.99V376.28M558.12 371.99h11.5M558.12 376.28h11.5M570.62 376.58V380.71M564.88 376.58h11.5M564.88 380.71h11.5M577.38 380.98V384.97M571.63 380.98h11.5M571.63 384.97h11.5M584.12 385.21V389.08M578.38 385.21h11.5M578.38 389.08h11.5M590.88 389.27V393.04M585.12 389.27h11.5M585.12 393.04h11.5M597.63 393.17V396.85M591.88 393.17h11.5M591.88 396.85h11.5M604.38 396.94V400.55M598.62 396.94h11.5M598.62 400.55h11.5M611.12 400.63V404.17M605.38 400.63h11.5M605.38 404.17h11.5M617.88 404.23V407.7M612.12 404.23h11.5M612.12 407.7h11.5M624.62 407.73V411.13M618.88 407.73h11.5M618.88 411.13h11.5M631.38 411.12V414.45M625.62 411.12h11.5M625.62 414.45h11.5M638.13 414.38V417.65M632.38 414.38h11.5M632.38 417.65h11.5M644.88 417.51V420.72M639.12 417.51h11.5M639.12 420.72h11.5M651.62 420.56V423.7M645.88 420.56h11.5M645.88 423.7h11.5M658.38 423.57V426.65M652.63 423.57h11.5M652.63 426.65h11.5M665.13 426.51V429.53M659.38 426.51h11.5M659.38 429.53h11.5M671.88 429.33V432.3M666.12 429.33h11.5M666.12 432.3h11.5M678.63 431.99V434.91M672.88 431.99h11.5M672.88 434.91h11.5M685.38 434.46V437.33M679.63 434.46h11.5M679.63 437.33h11.5M692.12 436.69V439.51M686.38 436.69h11.5M686.38 439.51h11.5M698.88 438.69V441.47M693.13 438.69h11.5M693.13 441.47h11.5M705.63 440.55V443.28M699.88 440.55h11.5M699.88 443.28h11.5M712.38 442.29V444.98M706.62 442.29h11.5M706.62 444.98h11.5M719.13 443.91V446.57M713.38 443.91h11.5M713.38 446.57h11.5M725.88 445.45V448.07M720.13 445.45h11.5M720.13 448.07h11.5M732.62 446.91V449.5M726.88 446.91h11.5M726.88 449.5h11.5M739.38 448.3V450.86M733.63 448.3h11.5M733.63 450.86h11.5M746.13 449.65V452.19M740.38 449.65h11.5M740.38 452.19h11.5M752.88 450.95V453.47M747.12 450.95h11.5M747.12 453.47h11.5M759.63 452.2V454.69M753.88 452.2h11.5M753.88 454.69h11.5M766.38 453.38V455.86M760.63 453.38h11.5M760.63 455.86h11.5M773.13 454.5V456.97M767.38 454.5h11.5M767.38 456.97h11.5M779.88 455.55V458.01M774.13 455.55h11.5M774.13 458.01h11.5M786.63 456.52V458.98M780.88 456.52h11.5M780.88 458.98h11.5"/><path fill="#cc0000" stroke="none" d="M118.38 284.52l-7.45 10.9h14.9zM125.12 239.95l-7.45 10.9h14.9zM131.88 196.92l-7.45 10.9h14.9zM138.62 156.96l-7.45 10.9h14.9zM145.38 124.99l-7.45 10.9h14.9zM152.12 102.25l-7.45 10.9h14.9zM158.88 84.73l-7.45 10.9h14.9zM165.62 71.35l-7.45 10.9h14.9zM172.38 61.67l-7.45 10.9h14.9zM179.12 55.22l-7.45 10.9h14.9zM185.88 50.45l-7.45 10.9h14.9zM192.62 47.07l-7.45 10.9h14.9zM199.38 45.07l-7.45 10.9h14.9zM206.12 44.61l-7.45 10.9h14.9zM212.88 45.07l-7.45 10.9h14.9zM219.62 46.92l-7.45 10.9h14.9zM226.38 49.88l-7.45 10.9h14.9zM233.12 53.81l-7.45 10.9h14.9zM239.88 58.27l-7.45 10.9h14.9zM246.63 63.29l-7.45 10.9h14.9zM253.38 69.1l-7.45 10.9h14.9zM260.12 75.42l-7.45 10.9h14.9zM266.88 81.94l-7.45 10.9h14.9zM273.62 88.52l-7.45 10.9h14.9zM280.38 95.42l-7.45 10.9h14.9zM287.12 102.57l-7.45 10.9h14.9zM293.88 109.84l-7.45 10.9h14.9zM300.62 117.11l-7.45 10.9h14.9zM307.38 124.44l-7.45 10.9h14.9zM314.12 131.88l-7.45 10.9h14.9zM320.88 139.39l-7.45 10.9h14.9zM327.62 146.92l-7.45 10.9h14.9zM334.38 154.45l-7.45 10.9h14.9zM341.12 161.91l-7.45 10.9h14.9zM347.88 169.29l-7.45 10.9h14.9zM354.62 176.65l-7.45 10.9h14.9zM361.38 184.03l-7.45 10.9h14.9zM368.13 191.4l-7.45 10.9h14.9zM374.88 198.71l-7.45 10.9h14.9zM381.62 205.95l-7.45 10.9h14.9zM388.38 213.07l-7.45 10.9h14.9zM395.13 220.06l-7.45 10.9h14.9zM401.88 226.86l-7.45 10.9h14.9zM408.63 233.37l-7.45 10.9h14.9zM415.38 239.8l-7.45 10.9h14.9zM422.13 246.3l-7.45 10.9h14.9zM428.88 252.83l-7.45 10.9h14.9zM435.62 259.37l-7.45 10.9h14.9zM442.38 265.89l-7.45 10.9h14.9zM449.13 272.38l-7.45 10.9h14.9zM455.88 278.79l-7.45 10.9h14.9zM462.63 285.12l-7.45 10.9h14.9zM469.38 291.34l-7.45 10.9h14.9zM476.13 297.43l-7.45 10.9h14.9zM482.88 303.41l-7.45 10.9h14.9zM489.63 309.31l-7.45 10.9h14.9zM496.38 315.1l-7.45 10.9h14.9zM503.13 320.78l-7.45 10.9h14.9zM509.88 326.35l-7.45 10.9h14.9zM516.62 331.78l-7.45 10.9h14.9zM523.38 337.05l-7.45 10.9h14.9zM530.12 342.2l-7.45 10.9h14.9zM536.88 347.25l-7.45 10.9h14.9zM543.62 352.24l-7.45 10.9h14.9zM550.38 357.21l-7.45 10.9h14.9zM557.13 362.13l-7.45 10.9h14.9zM563.88 366.89l-7.45 10.9h14.9zM570.62 371.4l-7.45 10.9h14.9zM577.38 375.72l-7.45 10.9h14.9zM584.12 379.89l-7.45 10.9h14.9zM590.88 383.91l-7.45 10.9h14.9zM597.63 387.76l-7.45 10.9h14.9zM604.38 391.5l-7.45 10.9h14.9zM611.12 395.15l-7.45 10.9h14.9zM617.88 398.72l-7.45 10.9h14.9zM624.62 402.18l-7.45 10.9h14.9zM631.38 405.53l-7.45 10.9h14.9zM638.13 408.76l-7.45 10.9h14.9zM644.88 411.86l-7.45 10.9h14.9zM651.62 414.88l-7.45 10.9h14.9zM658.38 417.86l-7.45 10.9h14.9zM665.13 420.77l-7.45 10.9h14.9zM671.88 423.56l-7.45 10.9h14.9zM678.63 426.2l-7.45 10.9h14.9zM685.38 428.64l-7.45 10.9h14.9zM692.12 430.85l-7.45 10.9h14.9zM698.88 432.83l-7.45 10.9h14.9zM705.63 434.67l-7.45 10.9h14.9zM712.38 436.38l-7.45 10.9h14.9zM719.13 437.99l-7.45 10.9h14.9zM725.88 439.51l-7.45 10.9h14.9zM732.62 440.95l-7.45 10.9h14.9zM739.38 442.33l-7.45 10.9h14.9zM746.13 443.67l-7.45 10.9h14.9zM752.88 444.96l-7.45 10.9h14.9zM759.63 446.19l-7.45 10.9h14.9zM766.38 447.37l-7.45 10.9h14.9zM773.13 448.48l-7.45 10.9h14.9zM779.88 449.53l-7.45 10.9h14.9zM786.63 450.5l-7.45 10.9h14.9z"/></g>
</g>
<g id="border"><rect x="115.0" y="30.5" width="675.0" height="491.79999999999995" fill="none" stroke="#000" stroke-width="2"/></g>
<g id="labels" opacity="0.999">
<text transform="translate(115,561) scale(0.985,1)" text-anchor="middle">0.0</text>
<text transform="translate(211.43,561) scale(0.985,1)" text-anchor="middle">0.5</text>
<text transform="translate(307.86,561) scale(0.985,1)" text-anchor="middle">1.0</text>
<text transform="translate(404.29,561) scale(0.985,1)" text-anchor="middle">1.5</text>
<text transform="translate(500.71,561) scale(0.985,1)" text-anchor="middle">2.0</text>
<text transform="translate(597.14,561) scale(0.985,1)" text-anchor="middle">2.5</text>
<text transform="translate(693.57,561) scale(0.985,1)" text-anchor="middle">3.0</text>
<text transform="translate(790,561) scale(0.985,1)" text-anchor="middle">3.5</text>
<text transform="translate(102,532.6) scale(0.985,1)" text-anchor="end">0.00</text>
<text transform="translate(102,455.76) scale(0.985,1)" text-anchor="end">0.50</text>
<text transform="translate(102,378.91) scale(0.985,1)" text-anchor="end">1.00</text>
<text transform="translate(102,302.07) scale(0.985,1)" text-anchor="end">1.50</text>
<text transform="translate(102,225.23) scale(0.985,1)" text-anchor="end">2.00</text>
<text transform="translate(102,148.38) scale(0.985,1)" text-anchor="end">2.50</text>
<text transform="translate(102,71.54) scale(0.985,1)" text-anchor="end">3.00</text>
<text x="452.4" y="604.2" text-anchor="middle" style="font-size:30.2px">k<tspan style="font-size:24px" dy="6.4">F</tspan><tspan dy="-6.4">r</tspan></text>
<text transform="translate(35.1,276.8) rotate(-90)" text-anchor="middle" style="font-size:30.67px">g<tspan style="font-size:24.53px" dy="-10">(2)</tspan><tspan style="font-size:24.53px" dy="17.4">BB</tspan><tspan dy="-7.4">(r)</tspan></text>
<text transform="translate(687.5,80.7) scale(0.981,1)" text-anchor="end">g<tspan style="font-size:21.8px" dy="6.5">BF</tspan><tspan dy="-6.5">=0.05</tspan></text>
<text transform="translate(687.5,109.5) scale(0.981,1)" text-anchor="end">g<tspan style="font-size:21.8px" dy="6.5">BF</tspan><tspan dy="-6.5">=0.33</tspan></text>
<text transform="translate(687.5,138.3) scale(0.981,1)" text-anchor="end">g<tspan style="font-size:21.8px" dy="6.5">BF</tspan><tspan dy="-6.5">=0.54</tspan></text>
<text transform="translate(687.5,167.1) scale(0.981,1)" text-anchor="end">g<tspan style="font-size:21.8px" dy="6.5">BF</tspan><tspan dy="-6.5">=0.87</tspan></text>
</g>
<g id="legend">
<g stroke="#0066cc" stroke-width="1.5" fill="none"><path d="M699.6 70.5H763.2M699.6 64.9v11.5M763.2 64.9v11.5"/><path fill="#0066cc" stroke="none" d="M731.4 63.25l-7.45 10.9h14.9z"/></g>
<g stroke="#00cc66" stroke-width="1.5" fill="none"><path d="M699.6 99.3H763.2M699.6 93.7v11.5M763.2 93.7v11.5"/><path fill="#00cc66" stroke="none" d="M731.4 92.05l-7.45 10.9h14.9z"/></g>
<g stroke="#cccc00" stroke-width="1.5" fill="none"><path d="M699.6 128.1H763.2M699.6 122.5v11.5M763.2 122.5v11.5"/><path fill="#cccc00" stroke="none" d="M731.4 120.85l-7.45 10.9h14.9z"/></g>
<g stroke="#cc0000" stroke-width="1.5" fill="none"><path d="M699.6 156.9H763.2M699.6 151.3v11.5M763.2 151.3v11.5"/><path fill="#cc0000" stroke="none" d="M731.4 149.65l-7.45 10.9h14.9z"/></g>
</g>
</svg>
</body></html>
